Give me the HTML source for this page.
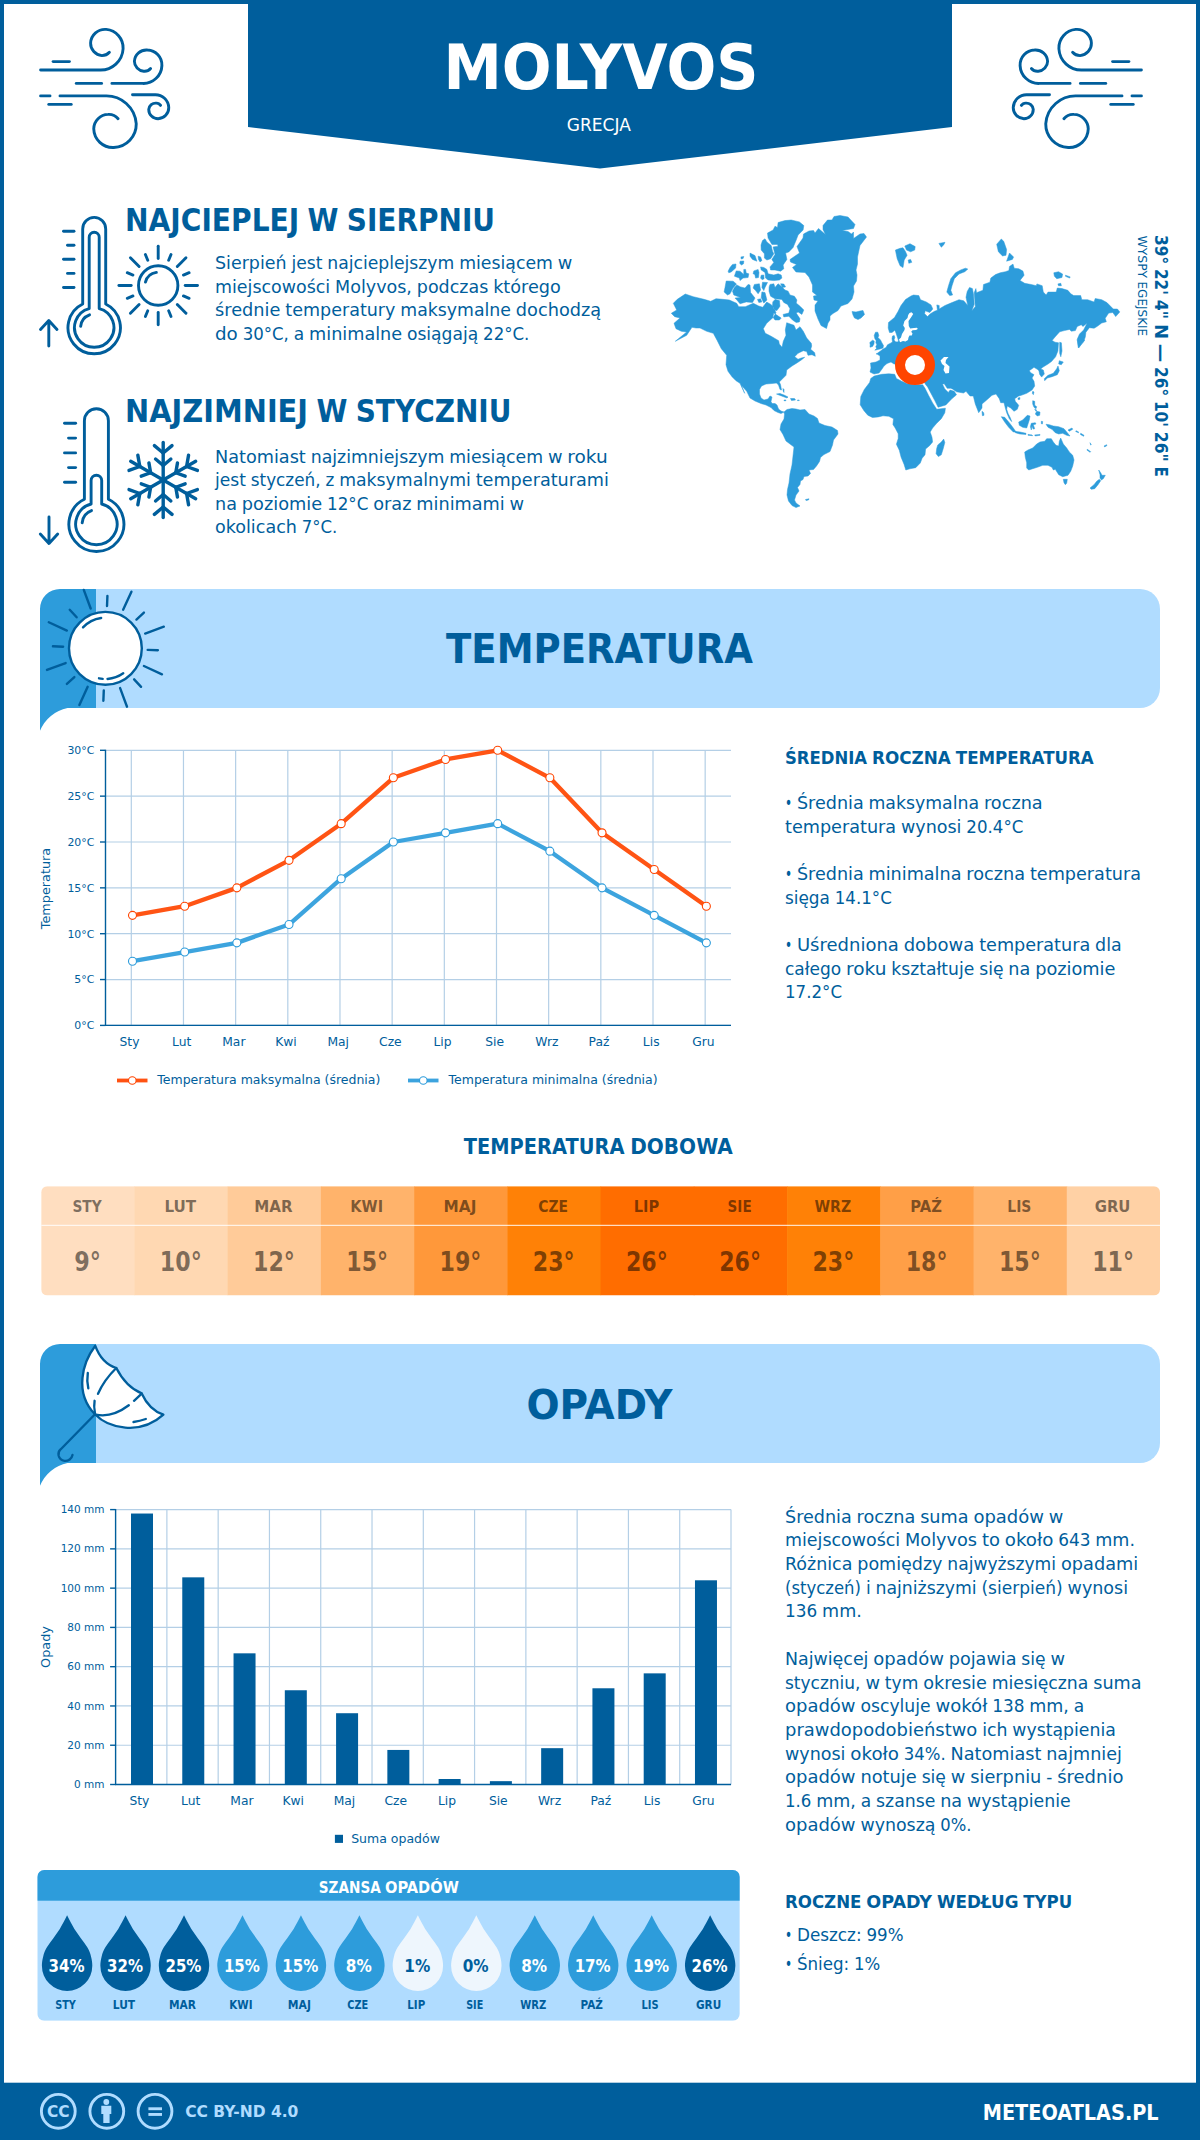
<!DOCTYPE html>
<html lang="pl"><head><meta charset="utf-8"><title>Molyvos – klimat i pogoda</title>
<style>html,body{margin:0;padding:0;background:#fff}svg{display:block}text{white-space:pre}</style></head>
<body>
<svg width="1200" height="2140" viewBox="0 0 1200 2140">
<rect x="0" y="0" width="1200" height="2140" fill="#fff"/>
<rect x="0" y="0" width="4" height="2140" fill="#005e9c"/>
<rect x="1196" y="0" width="4" height="2140" fill="#005e9c"/>
<rect x="0" y="0" width="1200" height="4" fill="#005e9c"/>
<polygon points="248,0 952,0 952,127 600,168.5 248,127" fill="#005e9c"/>
<g transform="translate(0,0)" fill="none" stroke="#005e9c" stroke-width="2.9" stroke-linecap="round" stroke-linejoin="round"><path d="M40.6,70 H100 A22.5,22.5 0 0 0 123.1,48.75 A18.5,18.5 0 0 0 106.25,29.4 A14.5,14.5 0 0 0 90.6,43.1 A12.3,12.3 0 0 0 101.9,55.6 A10,10 0 0 0 109.4,52.25"/><path d="M53.1,61.6 H69.4"/><path d="M111.9,83.4 H142.5 A18.5,18.5 0 0 0 161.9,65.6 A15,15 0 0 0 147.5,50 A12,12 0 0 0 134.4,61.25 A10,10 0 0 0 143.75,71.25 A8,8 0 0 0 150.6,68.5"/><path d="M76.25,83.4 H101.6"/><path d="M60,95.9 H105 A30,30 0 0 1 136.25,123.75 A23.4,23.4 0 0 1 113.75,147.5 A19.2,19.2 0 0 1 93.75,128.75 A14.7,14.7 0 0 1 108.1,114.4 A12,12 0 0 1 118.1,118.75"/><path d="M40.6,95.9 H50"/><path d="M48.75,104.4 H71.25"/><path d="M132.5,94.75 H155 A13.3,13.3 0 0 1 168.75,107.5 A11,11 0 0 1 158.1,118.75 A9.4,9.4 0 0 1 148.75,109.4 A7,7 0 0 1 156.25,103.1 A5,5 0 0 1 160.6,105.4"/></g>
<g transform="translate(1182,0) scale(-1,1)" fill="none" stroke="#005e9c" stroke-width="2.9" stroke-linecap="round" stroke-linejoin="round"><path d="M40.6,70 H100 A22.5,22.5 0 0 0 123.1,48.75 A18.5,18.5 0 0 0 106.25,29.4 A14.5,14.5 0 0 0 90.6,43.1 A12.3,12.3 0 0 0 101.9,55.6 A10,10 0 0 0 109.4,52.25"/><path d="M53.1,61.6 H69.4"/><path d="M111.9,83.4 H142.5 A18.5,18.5 0 0 0 161.9,65.6 A15,15 0 0 0 147.5,50 A12,12 0 0 0 134.4,61.25 A10,10 0 0 0 143.75,71.25 A8,8 0 0 0 150.6,68.5"/><path d="M76.25,83.4 H101.6"/><path d="M60,95.9 H105 A30,30 0 0 1 136.25,123.75 A23.4,23.4 0 0 1 113.75,147.5 A19.2,19.2 0 0 1 93.75,128.75 A14.7,14.7 0 0 1 108.1,114.4 A12,12 0 0 1 118.1,118.75"/><path d="M40.6,95.9 H50"/><path d="M48.75,104.4 H71.25"/><path d="M132.5,94.75 H155 A13.3,13.3 0 0 1 168.75,107.5 A11,11 0 0 1 158.1,118.75 A9.4,9.4 0 0 1 148.75,109.4 A7,7 0 0 1 156.25,103.1 A5,5 0 0 1 160.6,105.4"/></g>
<g fill="none" stroke="#005e9c" stroke-width="2.9" stroke-linecap="round" stroke-linejoin="round"><path d="M82.7,304.06 V228.9 A11.5,11.5 0 0 1 105.7,228.9 V304.06 A26.2,26.2 0 1 1 82.7,304.06 Z"/><path d="M89.2,308.55 V237.2 A5.0,5.0 0 0 1 99.2,237.2 V308.55 A19.7,19.7 0 1 1 89.2,308.55 Z"/><path d="M80.66,326.42 A13.59,13.59 0 0 1 89.55,314.83"/><path d="M63.5,231.2 H74"/><path d="M67.5,245.2 H74"/><path d="M63.5,259.3 H74"/><path d="M67.5,273.4 H74"/><path d="M63.5,287.5 H74"/><path d="M48.8,346 V321 M40.5,329.5 L48.8,320.6 L57,329.5"/></g>
<g fill="none" stroke="#005e9c" stroke-width="2.9" stroke-linecap="round" stroke-linejoin="round"><path d="M84.4,499.26 V420.7 A12,12 0 0 1 108.4,420.7 V499.26 A27.5,27.5 0 1 1 84.4,499.26 Z"/><path d="M91.10000000000001,503.99 V480.5 A5.3,5.3 0 0 1 101.7,480.5 V503.99 A20.7,20.7 0 1 1 91.10000000000001,503.99 Z"/><path d="M82.17,522.76 A14.28,14.28 0 0 1 91.51,510.58"/><path d="M64.5,423.3 H75.6"/><path d="M68.5,438.1 H75.6"/><path d="M64.5,452.9 H75.6"/><path d="M68.5,467.6 H75.6"/><path d="M64.5,482.3 H75.6"/><path d="M49,517 V543 M40.3,534 L49,543.5 L57.7,534"/></g>
<g fill="none" stroke="#005e9c" stroke-width="2.9" stroke-linecap="round"><circle cx="158.2" cy="285.5" r="19.7"/><path d="M185.20,285.50 L197.50,285.50"/><path d="M183.42,295.95 L189.15,298.32"/><path d="M177.29,304.59 L185.99,313.29"/><path d="M168.65,310.72 L171.02,316.45"/><path d="M158.20,312.50 L158.20,324.80"/><path d="M147.75,310.72 L145.38,316.45"/><path d="M139.11,304.59 L130.41,313.29"/><path d="M132.98,295.95 L127.25,298.32"/><path d="M131.20,285.50 L118.90,285.50"/><path d="M132.98,275.05 L127.25,272.68"/><path d="M139.11,266.41 L130.41,257.71"/><path d="M147.75,260.28 L145.38,254.55"/><path d="M158.20,258.50 L158.20,246.20"/><path d="M168.65,260.28 L171.02,254.55"/><path d="M177.29,266.41 L185.99,257.71"/><path d="M183.42,275.05 L189.15,272.68"/><path d="M145.45,282.08 A13.2,13.2 0 0 1 156.36,272.43"/></g>
<g fill="none" stroke="#005e9c" stroke-width="3.4" stroke-linecap="round"><path d="M163.2,480 L163.20,442.50"/><path d="M163.20,453.00 L154.39,445.61"/><path d="M163.20,453.00 L172.01,445.61"/><path d="M163.20,465.50 L155.54,459.07"/><path d="M163.20,465.50 L170.86,459.07"/><path d="M163.2,480 L195.68,461.25"/><path d="M186.58,466.50 L188.58,455.17"/><path d="M186.58,466.50 L197.39,470.43"/><path d="M175.76,472.75 L177.49,462.90"/><path d="M175.76,472.75 L185.15,476.17"/><path d="M163.2,480 L195.68,498.75"/><path d="M186.58,493.50 L197.39,489.57"/><path d="M186.58,493.50 L188.58,504.83"/><path d="M175.76,487.25 L185.15,483.83"/><path d="M175.76,487.25 L177.49,497.10"/><path d="M163.2,480 L163.20,517.50"/><path d="M163.20,507.00 L172.01,514.39"/><path d="M163.20,507.00 L154.39,514.39"/><path d="M163.20,494.50 L170.86,500.93"/><path d="M163.20,494.50 L155.54,500.93"/><path d="M163.2,480 L130.72,498.75"/><path d="M139.82,493.50 L137.82,504.83"/><path d="M139.82,493.50 L129.01,489.57"/><path d="M150.64,487.25 L148.91,497.10"/><path d="M150.64,487.25 L141.25,483.83"/><path d="M163.2,480 L130.72,461.25"/><path d="M139.82,466.50 L129.01,470.43"/><path d="M139.82,466.50 L137.82,455.17"/><path d="M150.64,472.75 L141.25,476.17"/><path d="M150.64,472.75 L148.91,462.90"/></g>
<g fill="#2d9cdb" stroke="#2d9cdb" stroke-width="0.5" stroke-linejoin="round"><path d="M685.3,294.0 L677.3,299.3 L673.3,303.3 L676.7,310.0 L671.3,313.3 L674.7,316.7 L680.0,318.0 L674.0,323.3 L676.0,328.7 L681.3,331.3 L686.7,332.0 L675.3,341.3 L686.7,335.3 L692.0,327.3 L696.0,328.0 L700.0,328.0 L706.7,331.3 L713.3,333.3 L717.3,340.7 L721.3,348.7 L726.7,355.3 L726.0,364.7 L728.0,371.3 L732.0,376.7 L736.0,380.7 L740.0,383.3 L744.7,393.3 L741.3,385.3 L746.7,391.3 L750.0,398.0 L755.0,401.0 L761.0,403.5 L766.0,405.0 L771.0,407.5 L774.0,410.5 L778.0,412.5 L781.0,413.5 L784.0,412.0 L781.0,411.0 L778.5,409.0 L777.0,405.0 L775.0,403.5 L772.0,403.5 L771.0,401.5 L772.0,397.0 L770.0,396.0 L768.0,399.0 L764.0,400.0 L761.0,398.0 L759.5,394.0 L759.5,389.5 L761.5,386.0 L766.0,384.0 L772.0,383.5 L776.5,383.0 L778.5,385.0 L780.0,389.5 L781.5,390.0 L780.5,384.5 L779.3,382.0 L786.0,375.3 L786.7,370.0 L792.0,366.0 L797.3,362.7 L801.3,360.0 L804.7,357.3 L801.3,358.0 L798.0,359.3 L794.7,356.7 L798.0,353.3 L803.3,350.7 L806.7,351.6 L808.0,355.3 L812.0,354.7 L815.3,356.3 L814.7,352.7 L810.7,349.3 L811.7,346.0 L811.3,343.3 L806.7,338.0 L803.3,331.3 L800.0,326.7 L796.0,330.0 L794.0,325.3 L786.7,322.7 L785.3,330.0 L786.0,335.3 L783.3,341.3 L782.0,347.3 L779.3,344.0 L778.7,340.7 L770.7,336.0 L765.3,333.3 L763.3,328.7 L766.7,323.3 L773.3,317.3 L776.0,312.7 L773.3,307.3 L771.3,304.7 L766.7,302.0 L762.7,307.3 L758.7,306.0 L753.3,303.3 L745.3,306.7 L738.7,306.7 L736.7,303.3 L729.3,300.0 L722.7,299.3 L716.0,298.7 L710.7,301.3 L704.0,299.3 L693.3,296.7Z M778.1,222.5 L785.0,220.6 L791.2,220.0 L799.4,221.9 L803.8,225.6 L803.1,230.0 L798.1,235.0 L796.2,240.0 L793.1,247.5 L788.8,251.9 L785.6,253.1 L786.9,259.4 L783.1,265.0 L783.8,268.8 L780.6,271.2 L775.0,270.0 L770.6,270.0 L770.0,266.9 L773.8,262.5 L771.9,259.4 L775.0,254.4 L773.1,246.9 L778.1,246.2 L777.5,244.4 L771.9,244.4 L768.1,238.1 L767.5,233.1 L773.1,230.0 L775.0,226.2 L777.5,227.5Z M765.0,238.8 L766.9,241.9 L771.2,245.6 L772.5,251.2 L773.8,253.8 L770.6,258.8 L766.9,260.0 L764.4,258.1 L764.4,253.8 L761.2,250.0 L761.0,245.0 L762.5,240.6Z M760.6,266.9 L763.8,267.5 L766.9,269.4 L768.1,273.8 L773.8,275.0 L778.1,273.8 L781.2,275.0 L781.9,278.1 L779.4,280.0 L773.8,280.6 L768.1,280.0 L765.6,278.1 L765.0,272.5 L761.2,270.0Z M750.0,253.1 L755.0,255.6 L756.9,261.2 L752.5,259.4 L750.0,256.2Z M758.1,256.2 L760.6,256.9 L761.9,260.6 L760.0,261.9 L758.5,259.4Z M740.9,256.9 L743.8,256.5 L743.1,258.5 L741.2,259.0Z M740.0,261.2 L743.8,261.0 L743.5,263.8 L741.5,265.0 L739.8,263.5Z M732.5,264.4 L736.0,264.0 L735.6,268.1 L731.2,271.9 L728.8,272.8 L728.1,271.2 L730.0,267.5Z M736.2,270.9 L740.0,271.2 L743.8,274.4 L743.8,269.4 L745.6,269.4 L746.2,273.1 L748.8,273.8 L748.1,277.5 L743.1,278.1 L740.0,280.6 L739.4,278.1 L734.4,276.2Z M753.8,270.9 L758.1,269.4 L759.0,272.5 L758.5,277.5 L755.6,278.1 L754.8,274.4 L753.1,273.8Z M761.2,275.2 L763.8,275.0 L764.1,278.8 L762.2,279.8 L760.6,278.1Z M726.2,281.0 L733.1,281.2 L736.5,284.0 L733.1,288.1 L730.0,293.8 L727.5,295.0 L724.1,291.9 L725.0,287.5Z M736.9,285.0 L740.6,286.9 L745.0,288.1 L748.1,284.4 L750.0,285.0 L750.6,292.5 L755.0,298.1 L752.5,302.5 L746.2,301.9 L740.0,303.8 L736.9,300.0 L735.0,298.1 L740.6,297.5 L733.8,295.0 L732.5,291.2 L734.4,287.5Z M754.4,284.4 L759.4,283.8 L760.6,290.0 L758.1,293.8 L755.6,290.6 L753.1,288.1Z M762.5,282.2 L767.5,282.5 L765.0,287.5 L763.8,290.6 L761.9,287.5Z M761.9,291.9 L765.0,292.5 L766.9,300.0 L763.8,303.1 L761.2,297.5Z M757.5,299.4 L760.6,298.8 L761.9,301.9 L758.8,302.5Z M770.0,284.4 L773.8,283.8 L775.0,287.5 L778.1,283.8 L781.2,286.2 L785.0,290.0 L788.1,291.2 L790.0,295.0 L794.4,296.2 L796.9,300.0 L796.2,303.1 L800.0,306.2 L803.8,310.0 L801.9,314.4 L798.1,311.9 L796.2,313.1 L800.0,318.8 L799.4,321.9 L796.2,322.5 L792.5,320.0 L788.8,316.2 L783.8,316.9 L783.1,314.4 L788.8,313.1 L790.0,308.8 L787.5,304.4 L783.8,302.5 L781.9,299.4 L775.0,298.8 L770.6,296.2 L769.0,291.2 L769.1,286.9Z M780.6,283.8 L783.8,284.0 L785.6,286.9 L782.5,287.5Z M773.8,313.1 L781.2,318.1 L779.4,320.0 L775.0,320.0 L772.8,316.9Z M775.0,299.4 L779.4,300.6 L780.0,306.2 L776.9,310.6 L774.4,310.0 L772.5,306.2 L772.8,301.9Z M834.0,216.5 L840.0,215.5 L848.0,217.0 L855.0,224.5 L853.5,228.5 L842.0,230.5 L848.0,231.5 L851.5,234.0 L853.5,232.0 L853.5,238.5 L860.0,234.0 L864.0,233.5 L866.5,237.0 L860.0,245.5 L859.0,250.0 L857.5,257.0 L857.5,264.0 L856.0,270.0 L857.0,275.0 L856.5,281.0 L853.5,286.0 L854.0,292.0 L852.0,299.0 L848.0,303.5 L841.0,306.0 L838.0,310.5 L833.0,313.5 L830.0,316.0 L830.0,320.0 L828.0,323.0 L826.5,328.5 L821.0,325.5 L818.0,319.0 L815.0,311.0 L815.0,305.0 L818.0,301.0 L814.0,300.0 L813.5,296.0 L817.0,295.5 L812.5,292.0 L812.5,285.0 L809.0,277.0 L805.0,272.5 L796.0,272.0 L792.5,267.5 L796.5,264.5 L790.5,262.0 L790.0,259.5 L799.5,253.0 L797.0,246.5 L803.0,238.0 L803.5,234.0 L809.0,231.0 L813.5,230.5 L815.0,233.0 L818.5,228.5 L825.5,234.5 L823.0,229.5 L823.0,225.5 L827.5,220.0 L832.0,220.0Z M852.0,311.5 L856.0,312.0 L860.0,311.0 L863.0,310.5 L864.5,314.5 L861.0,318.0 L858.0,319.5 L854.5,318.0 L853.0,315.0Z M784.0,412.0 L787.0,409.5 L792.0,408.5 L796.0,409.0 L800.0,410.0 L805.0,409.5 L809.0,414.0 L814.0,416.0 L817.5,418.5 L819.0,423.0 L825.0,425.5 L832.0,427.0 L837.5,430.5 L838.0,434.0 L833.5,440.0 L832.5,445.0 L830.0,451.5 L824.0,454.5 L820.5,457.5 L819.5,461.5 L816.5,466.0 L813.5,469.5 L809.0,470.0 L810.5,473.5 L808.0,476.0 L804.0,476.5 L803.0,479.5 L800.5,481.0 L800.0,484.5 L797.5,487.5 L799.0,491.0 L796.0,495.0 L794.5,500.0 L796.0,503.0 L800.0,506.0 L796.0,507.5 L792.0,505.5 L788.5,501.0 L787.0,495.0 L787.5,489.5 L789.0,483.0 L790.0,474.0 L792.0,465.0 L793.0,456.0 L794.0,447.0 L790.0,444.0 L786.0,441.0 L783.0,434.5 L780.0,429.5 L781.0,424.0 L784.0,419.0 L784.5,414.5Z M805.5,499.5 L809.0,498.8 L808.5,500.0 L806.0,500.5Z M776.5,394.0 L780.0,393.5 L784.0,395.0 L788.0,397.0 L787.0,398.0 L783.0,396.5 L779.0,395.0Z M790.5,398.5 L794.5,398.5 L795.5,400.0 L791.5,400.5Z M797.5,400.0 L799.2,400.0 L799.2,400.6 L797.5,400.6Z M784.0,400.0 L786.0,400.0 L785.8,400.8 L784.0,400.7Z M783.0,388.5 L784.0,389.5 L784.0,392.5 L783.2,391.0Z M913.5,295.0 L918.8,295.6 L920.5,299.7 L926.3,302.0 L931.0,304.9 L932.8,309.0 L929.8,312.5 L925.2,310.8 L924.6,313.7 L927.5,316.6 L930.4,313.7 L934.5,311.3 L937.4,310.2 L936.8,304.9 L939.2,305.5 L939.2,309.0 L945.0,305.5 L952.0,302.6 L959.0,299.7 L963.7,300.8 L967.8,305.5 L966.0,297.3 L967.2,291.5 L969.5,287.4 L972.4,288.6 L973.6,295.0 L974.2,304.3 L971.8,310.8 L975.3,306.7 L974.8,299.7 L974.2,292.7 L975.9,288.6 L976.5,292.7 L982.9,290.3 L983.5,284.5 L989.9,282.2 L990.8,278.1 L995.5,274.6 L1000.2,272.8 L1005.4,271.7 L1008.9,270.5 L1009.5,266.4 L1013.0,264.1 L1014.2,268.2 L1018.8,268.8 L1022.9,271.1 L1024.1,275.2 L1020.0,280.4 L1024.7,283.3 L1031.1,284.5 L1036.3,285.7 L1036.9,283.9 L1042.2,285.7 L1043.3,292.1 L1046.2,295.0 L1048.0,292.1 L1056.2,292.1 L1057.3,288.0 L1062.0,288.6 L1067.8,290.3 L1070.8,293.8 L1073.7,295.6 L1080.7,295.6 L1081.8,299.7 L1087.7,299.7 L1094.1,302.0 L1095.2,298.5 L1101.7,299.7 L1106.9,302.6 L1113.3,309.0 L1117.4,309.0 L1119.8,311.9 L1115.7,316.6 L1112.8,312.5 L1108.7,313.1 L1105.2,318.3 L1106.3,321.8 L1101.7,323.0 L1097.0,326.5 L1094.1,328.2 L1089.4,327.7 L1085.9,332.3 L1085.3,337.0 L1083.6,341.7 L1078.3,347.5 L1077.2,339.3 L1079.5,334.1 L1083.6,330.0 L1087.1,323.0 L1083.0,326.5 L1081.2,324.8 L1077.2,326.5 L1075.4,330.6 L1071.3,331.2 L1069.6,329.4 L1064.3,330.6 L1059.7,331.8 L1055.0,337.0 L1052.1,340.5 L1055.0,342.2 L1058.5,342.8 L1057.9,351.0 L1055.6,356.8 L1051.5,361.5 L1048.0,364.0 L1042.7,367.3 L1040.7,369.1 L1043.3,370.0 L1044.3,374.0 L1041.6,377.1 L1039.7,374.4 L1038.9,370.7 L1037.3,369.3 L1034.0,367.3 L1029.3,370.7 L1030.7,372.7 L1034.0,374.7 L1032.0,378.0 L1034.0,381.3 L1034.7,386.0 L1032.0,390.0 L1026.7,393.3 L1021.3,395.3 L1018.7,396.0 L1014.7,398.7 L1015.3,401.3 L1018.7,405.3 L1017.3,409.3 L1014.0,411.3 L1010.7,408.0 L1007.3,406.0 L1006.7,409.3 L1008.0,413.3 L1010.4,418.0 L1011.7,421.6 L1009.3,418.7 L1006.7,412.7 L1005.3,408.0 L1004.0,402.7 L1000.7,402.7 L999.3,398.7 L996.0,394.0 L992.0,395.3 L986.7,400.0 L982.0,404.0 L982.0,408.0 L978.7,412.7 L975.3,404.0 L973.3,396.0 L970.0,396.0 L966.0,391.3 L963.5,393.0 L956.5,391.8 L952.4,388.9 L950.7,388.3 L947.2,388.3 L944.2,383.7 L942.5,384.2 L944.8,388.9 L948.3,392.4 L950.1,390.1 L954.2,391.2 L956.5,394.8 L951.8,398.8 L945.8,405.0 L938.1,407.2 L934.8,400.6 L930.8,393.0 L927.6,386.9 L925.6,384.6 L915.0,365.0 L915.0,365.0 L894.0,364.0 L891.0,362.0 L887.0,363.5 L884.0,366.0 L882.0,369.0 L879.0,373.0 L874.0,374.0 L870.0,372.0 L871.0,368.0 L870.5,363.0 L876.0,362.0 L880.0,360.0 L880.0,356.0 L877.0,354.0 L876.0,354.0 L877.0,353.5 L880.5,351.0 L883.0,349.0 L886.0,347.5 L887.5,344.8 L890.5,343.2 L892.5,342.0 L892.0,338.5 L892.5,336.0 L894.2,335.5 L894.8,337.5 L894.0,340.0 L895.5,341.8 L897.5,342.0 L898.5,341.0 L898.0,339.0 L896.0,333.0 L894.8,330.2 L892.0,332.5 L889.5,332.5 L888.2,328.0 L888.5,322.5 L894.5,317.5 L898.0,311.5 L901.0,305.5 L905.5,299.5 L911.0,296.0Z M875.5,332.2 L877.8,332.2 L878.8,335.5 L878.0,337.5 L880.5,340.0 L882.0,343.0 L883.5,345.5 L883.0,348.0 L880.0,349.0 L874.8,350.2 L876.5,348.5 L875.8,346.5 L876.8,344.8 L875.8,342.5 L876.2,340.8 L874.8,338.5 L874.2,335.5Z M869.8,342.5 L872.5,340.2 L874.2,341.0 L874.0,344.0 L872.5,346.5 L870.0,347.2 L870.2,344.8Z M895.4,250.1 L900.1,248.3 L903.0,247.8 L905.3,251.2 L907.1,255.3 L904.2,260.0 L903.0,267.6 L900.1,265.8 L897.2,258.8Z M904.8,246.0 L910.0,243.7 L915.2,246.6 L914.7,250.1 L910.6,251.8 L906.5,250.1Z M908.2,260.0 L910.6,259.4 L911.8,262.3 L908.8,263.3Z M938.9,243.4 L945.0,242.3 L943.8,244.8 L941.3,247.2Z M965.4,268.2 L967.8,269.1 L964.8,271.7 L959.0,274.0 L954.3,278.7 L952.0,285.7 L950.8,290.3 L952.6,295.0 L949.7,295.6 L946.8,292.1 L948.5,285.7 L950.8,278.7 L955.5,272.8 L960.8,269.9Z M996.7,244.2 L1001.3,239.0 L1003.7,241.3 L1006.6,249.5 L1006.0,255.3 L1002.5,255.9 L998.4,251.8Z M1009.5,253.0 L1013.6,257.1 L1012.4,259.4 L1006.6,261.2Z M1053.8,272.8 L1058.5,271.7 L1062.6,274.0 L1062.0,277.5 L1056.8,278.7 L1054.4,276.3Z M1065.5,275.2 L1070.2,276.9 L1069.6,278.1 L1065.5,276.3Z M1057.9,283.9 L1060.8,283.3 L1061.4,285.7 L1058.5,285.7Z M1059.7,342.2 L1061.4,342.8 L1062.0,351.0 L1060.8,356.8 L1059.7,353.3Z M874.2,376.1 L881.8,374.3 L888.8,373.8 L894.7,374.3 L896.4,378.4 L901.7,381.3 L907.5,383.7 L915.7,384.8 L922.7,384.8 L925.0,388.3 L928.5,395.3 L932.6,402.9 L936.7,409.3 L945.4,408.2 L944.8,412.8 L941.3,418.7 L936.7,423.3 L932.6,428.0 L930.2,432.1 L932.0,437.3 L932.6,442.0 L929.7,445.5 L925.6,449.0 L925.0,454.8 L922.1,458.3 L920.3,463.0 L915.7,467.7 L909.8,468.8 L905.8,470.0 L904.0,464.2 L901.1,457.2 L899.3,450.2 L896.4,444.3 L898.2,438.5 L898.2,433.8 L895.2,428.0 L892.9,424.5 L893.5,418.7 L888.8,416.3 L883.0,415.8 L878.3,416.9 L872.5,417.5 L867.8,415.2 L863.8,410.5 L860.2,404.7 L860.8,396.5 L864.3,389.5 L869.6,382.5 L870.8,378.4Z M943.7,439.1 L944.8,442.6 L943.1,449.0 L941.3,454.8 L938.4,456.6 L936.1,453.7 L936.7,448.4 L937.8,444.9 L941.3,442.0Z M1059.3,360.7 L1063.3,362.0 L1061.3,364.7 L1058.7,364.0Z M1058.0,366.0 L1059.3,370.7 L1057.3,374.7 L1052.0,376.7 L1047.3,378.0 L1044.7,380.7 L1044.3,378.7 L1048.0,375.3 L1053.3,373.3 L1056.7,368.7Z M1077.3,340.0 L1084.7,340.0 L1080.7,345.3 L1078.7,348.0Z M1032.7,391.3 L1034.0,392.0 L1033.3,394.7 L1032.3,393.3Z M1018.0,398.0 L1020.0,397.6 L1019.7,399.5 L1018.1,399.6Z M982.0,411.3 L983.7,412.7 L984.0,415.3 L982.4,415.7Z M1032.7,400.7 L1034.7,401.3 L1034.7,405.3 L1036.7,406.7 L1036.0,408.7 L1034.0,407.3 L1032.7,404.0Z M1036.7,411.3 L1040.0,412.0 L1039.7,415.3 L1037.3,416.0 L1035.3,414.0Z M1034.7,409.3 L1036.7,410.0 L1036.0,411.3Z M1001.3,416.7 L1004.7,417.3 L1009.3,422.7 L1013.3,428.0 L1016.0,432.0 L1013.3,432.0 L1008.7,427.3 L1004.7,422.0Z M1015.3,431.3 L1020.0,432.0 L1026.0,433.3 L1026.0,434.4 L1020.0,434.0 L1015.3,432.7Z M1028.0,434.4 L1032.0,434.9 L1032.7,435.7 L1028.0,435.3Z M1034.7,434.9 L1040.0,434.4 L1040.0,435.3 L1035.3,436.0Z M1018.7,422.0 L1022.7,420.0 L1027.3,415.3 L1030.0,416.0 L1029.3,420.0 L1028.0,424.0 L1026.7,428.0 L1022.7,427.3 L1019.3,425.3Z M1031.3,423.3 L1035.3,422.7 L1036.0,424.0 L1033.3,424.7 L1034.7,428.7 L1033.1,429.1 L1032.0,426.0 L1031.3,430.0 L1030.4,426.7Z M1041.3,421.3 L1042.7,421.6 L1042.4,424.0 L1041.3,423.7Z M1046.0,424.3 L1049.3,424.7 L1053.3,426.0 L1058.7,426.7 L1064.0,428.7 L1066.7,432.0 L1070.0,436.0 L1066.7,435.3 L1062.7,433.3 L1058.7,434.0 L1055.3,432.7 L1052.0,429.3 L1048.0,427.3Z M1068.0,430.0 L1072.0,428.0 L1072.7,429.3 L1069.3,431.3Z M1076.0,430.7 L1078.7,432.0 L1078.4,432.8 L1075.7,431.5Z M1080.7,433.3 L1084.0,435.3 L1083.6,436.3 L1080.4,434.4Z M1090.0,442.7 L1091.3,444.7 L1090.7,445.1Z M1087.3,449.3 L1090.7,451.7 L1090.1,452.3 L1086.9,450.1Z M1104.0,446.0 L1106.7,444.7 L1106.9,445.6 L1104.7,446.9Z M1024.7,452.0 L1028.0,450.0 L1032.7,448.0 L1036.7,444.0 L1040.0,442.0 L1044.7,441.3 L1046.7,438.7 L1051.3,438.7 L1053.3,442.0 L1056.0,445.3 L1058.7,446.0 L1059.3,441.3 L1060.7,438.0 L1063.3,444.0 L1066.7,448.0 L1069.3,452.0 L1072.7,455.3 L1074.0,460.0 L1072.7,466.0 L1070.7,471.3 L1068.0,475.3 L1062.7,476.7 L1058.7,474.7 L1055.3,469.3 L1053.3,470.0 L1052.0,467.3 L1048.0,465.3 L1042.7,465.3 L1037.3,467.3 L1032.7,468.7 L1028.7,470.0 L1026.7,468.0 L1026.7,462.7 L1025.3,457.3Z M1063.3,479.3 L1067.3,479.3 L1066.7,483.3 L1065.3,484.7 L1064.0,482.7Z M1098.7,470.0 L1100.7,472.7 L1102.0,475.3 L1105.3,475.3 L1103.3,478.7 L1101.3,480.0 L1100.0,478.0 L1100.0,474.7Z M1099.3,479.3 L1100.7,480.7 L1098.0,484.7 L1094.7,488.7 L1091.3,489.3 L1090.0,488.0 L1094.0,484.7 L1096.7,481.3Z"/></g><path d="M911.5,312.2 L913.2,314.0 L911.0,317.5 L908.5,321.0 L908.8,326.0 L910.2,328.5 L914.0,328.0 L917.0,327.8 L917.8,329.0 L916.0,330.0 L912.5,330.2 L911.2,331.8 L912.5,333.5 L911.8,335.5 L909.5,335.5 L908.5,337.5 L908.0,340.0 L905.5,341.5 L903.0,341.0 L900.0,342.2 L899.0,339.5 L901.0,337.5 L902.0,334.0 L904.5,330.0 L904.8,328.0 L903.2,325.5 L904.5,321.0 L907.5,318.0 L908.2,315.0 L909.5,313.0Z M940.5,360.5 L944.0,357.0 L948.5,357.0 L946.0,360.0 L945.5,363.0 L949.5,366.5 L949.0,373.0 L945.5,373.5 L943.5,370.0 L944.5,366.0 L942.0,364.0Z" fill="#fff"/><circle cx="915" cy="365" r="15" fill="#fff" stroke="#ff4500" stroke-width="10"/>
<path d="M60,589 H1140 A20,20 0 0 1 1160,609 V688 A20,20 0 0 1 1140,708 H60 Z" fill="#b0dcff"/><path d="M96,589 H60 A20,20 0 0 0 40,609 V730.8 A37.8,37.8 0 0 1 67.5,708 H96 Z" fill="#2d9cdb"/>
<path d="M60,1344 H1140 A20,20 0 0 1 1160,1364 V1443 A20,20 0 0 1 1140,1463 H60 Z" fill="#b0dcff"/><path d="M96,1344 H60 A20,20 0 0 0 40,1364 V1485.8 A37.8,37.8 0 0 1 67.5,1463 H96 Z" fill="#2d9cdb"/>
<g fill="none" stroke="#005e9c" stroke-width="2.4" stroke-linecap="round"><path d="M147.67,649.92 L157.86,650.32"/><path d="M143.92,666.02 L162.00,674.33"/><path d="M134.14,679.34 L141.07,686.82"/><path d="M120.11,688.07 L127.01,706.73"/><path d="M103.78,690.57 L103.38,700.76"/><path d="M87.68,686.82 L79.37,704.90"/><path d="M74.36,677.04 L66.88,683.97"/><path d="M65.63,663.01 L46.97,669.91"/><path d="M63.13,646.68 L52.94,646.28"/><path d="M66.88,630.58 L48.80,622.27"/><path d="M76.66,617.26 L69.73,609.78"/><path d="M90.69,608.53 L83.79,589.87"/><path d="M107.02,606.03 L107.42,595.84"/><path d="M123.12,609.78 L131.43,591.70"/><path d="M136.44,619.56 L143.92,612.63"/><path d="M145.17,633.59 L163.83,626.69"/><circle cx="105.4" cy="648.3" r="36.4" fill="#fff"/><path d="M83.02,627.43 A30.6,30.6 0 0 1 101.14,618.00"/><path d="M123.23,673.29 A30.7,30.7 0 0 1 107.54,678.93"/><path d="M102.72,678.88 A30.7,30.7 0 0 1 99.02,678.33"/></g>
<g fill="none" stroke="#005e9c" stroke-width="2.35" stroke-linecap="round" stroke-linejoin="round"><path d="M95,1414.3 L60.8,1449.2 A6.6,6.6 0 0 0 58.6,1455.5 A7.2,7.2 0 0 0 64.5,1460.9 A7.4,7.4 0 0 0 72.5,1455"/><path d="M95.3,1345.8 C83,1362 73.5,1392 95,1414.3 C108,1428 140,1436 163.4,1414.7 Q149,1409.5 141.7,1393.4 Q126,1387 116.3,1368 Q101.5,1363 95.3,1345.8 Z" fill="#fff"/><path d="M95,1413.5 Q93.6,1406 94.6,1400.8"/><path d="M98,1393.8 Q104,1380 116.3,1368"/><path d="M95.8,1414.6 Q112,1418 128.8,1405.3"/><path d="M134,1400.8 L141.7,1393.6"/><path d="M87.8,1373 Q86.6,1381 88.3,1388.3"/><path d="M133.5,1422 Q140,1421 145.8,1419"/></g>
<g stroke="#b4cfe6" stroke-width="1.2" fill="none"><path d="M105.5,1025.40 H731.0"/><path d="M105.5,979.55 H731.0"/><path d="M105.5,933.70 H731.0"/><path d="M105.5,887.85 H731.0"/><path d="M105.5,842.00 H731.0"/><path d="M105.5,796.15 H731.0"/><path d="M105.5,750.30 H731.0"/><path d="M131.30,750.3 V1025.4"/><path d="M183.47,750.3 V1025.4"/><path d="M235.64,750.3 V1025.4"/><path d="M287.81,750.3 V1025.4"/><path d="M339.98,750.3 V1025.4"/><path d="M392.15,750.3 V1025.4"/><path d="M444.32,750.3 V1025.4"/><path d="M496.49,750.3 V1025.4"/><path d="M548.66,750.3 V1025.4"/><path d="M600.83,750.3 V1025.4"/><path d="M653.00,750.3 V1025.4"/><path d="M705.17,750.3 V1025.4"/></g><g stroke="#005e9c" stroke-width="1.4" fill="none"><path d="M105.5,749.6999999999999 V1025.4 H731.0"/><path d="M100.0,1025.40 H105.5"/><path d="M100.0,979.55 H105.5"/><path d="M100.0,933.70 H105.5"/><path d="M100.0,887.85 H105.5"/><path d="M100.0,842.00 H105.5"/><path d="M100.0,796.15 H105.5"/><path d="M100.0,750.30 H105.5"/></g>
<polyline points="132.50,915.36 184.67,906.19 236.84,887.85 289.01,860.34 341.18,823.66 393.35,777.81 445.52,759.47 497.69,750.30 549.86,777.81 602.03,832.83 654.20,869.51 706.37,906.19" fill="none" stroke="#ff4500" stroke-width="4.3" stroke-linejoin="round" stroke-opacity="0.92"/><circle cx="132.50" cy="915.36" r="4.0" fill="#fff" stroke="#ff4500" stroke-width="1.1"/><circle cx="184.67" cy="906.19" r="4.0" fill="#fff" stroke="#ff4500" stroke-width="1.1"/><circle cx="236.84" cy="887.85" r="4.0" fill="#fff" stroke="#ff4500" stroke-width="1.1"/><circle cx="289.01" cy="860.34" r="4.0" fill="#fff" stroke="#ff4500" stroke-width="1.1"/><circle cx="341.18" cy="823.66" r="4.0" fill="#fff" stroke="#ff4500" stroke-width="1.1"/><circle cx="393.35" cy="777.81" r="4.0" fill="#fff" stroke="#ff4500" stroke-width="1.1"/><circle cx="445.52" cy="759.47" r="4.0" fill="#fff" stroke="#ff4500" stroke-width="1.1"/><circle cx="497.69" cy="750.30" r="4.0" fill="#fff" stroke="#ff4500" stroke-width="1.1"/><circle cx="549.86" cy="777.81" r="4.0" fill="#fff" stroke="#ff4500" stroke-width="1.1"/><circle cx="602.03" cy="832.83" r="4.0" fill="#fff" stroke="#ff4500" stroke-width="1.1"/><circle cx="654.20" cy="869.51" r="4.0" fill="#fff" stroke="#ff4500" stroke-width="1.1"/><circle cx="706.37" cy="906.19" r="4.0" fill="#fff" stroke="#ff4500" stroke-width="1.1"/>
<polyline points="132.50,961.21 184.67,952.04 236.84,942.87 289.01,924.53 341.18,878.68 393.35,842.00 445.52,832.83 497.69,823.66 549.86,851.17 602.03,887.85 654.20,915.36 706.37,942.87" fill="none" stroke="#2d9cdb" stroke-width="4.3" stroke-linejoin="round" stroke-opacity="0.92"/><circle cx="132.50" cy="961.21" r="4.0" fill="#fff" stroke="#2d9cdb" stroke-width="1.1"/><circle cx="184.67" cy="952.04" r="4.0" fill="#fff" stroke="#2d9cdb" stroke-width="1.1"/><circle cx="236.84" cy="942.87" r="4.0" fill="#fff" stroke="#2d9cdb" stroke-width="1.1"/><circle cx="289.01" cy="924.53" r="4.0" fill="#fff" stroke="#2d9cdb" stroke-width="1.1"/><circle cx="341.18" cy="878.68" r="4.0" fill="#fff" stroke="#2d9cdb" stroke-width="1.1"/><circle cx="393.35" cy="842.00" r="4.0" fill="#fff" stroke="#2d9cdb" stroke-width="1.1"/><circle cx="445.52" cy="832.83" r="4.0" fill="#fff" stroke="#2d9cdb" stroke-width="1.1"/><circle cx="497.69" cy="823.66" r="4.0" fill="#fff" stroke="#2d9cdb" stroke-width="1.1"/><circle cx="549.86" cy="851.17" r="4.0" fill="#fff" stroke="#2d9cdb" stroke-width="1.1"/><circle cx="602.03" cy="887.85" r="4.0" fill="#fff" stroke="#2d9cdb" stroke-width="1.1"/><circle cx="654.20" cy="915.36" r="4.0" fill="#fff" stroke="#2d9cdb" stroke-width="1.1"/><circle cx="706.37" cy="942.87" r="4.0" fill="#fff" stroke="#2d9cdb" stroke-width="1.1"/>
<path d="M117,1080.5 H147.5" stroke="#ff4500" stroke-width="3.8" stroke-opacity="0.93"/><circle cx="132.3" cy="1080.5" r="3.8" fill="#fff" stroke="#ff4500" stroke-width="1.1"/>
<path d="M408,1080.5 H438.5" stroke="#2d9cdb" stroke-width="3.8" stroke-opacity="0.93"/><circle cx="423.3" cy="1080.5" r="3.8" fill="#fff" stroke="#2d9cdb" stroke-width="1.1"/>
<clipPath id="tclip"><rect x="41.2" y="1186.2" width="1118.8" height="109.29999999999995" rx="6" ry="6"/></clipPath><g clip-path="url(#tclip)"><rect x="41.20" y="1186.2" width="93.73" height="109.29999999999995" fill="#ffdec0"/><rect x="134.43" y="1186.2" width="93.73" height="109.29999999999995" fill="#ffd8b2"/><rect x="227.67" y="1186.2" width="93.73" height="109.29999999999995" fill="#ffcb99"/><rect x="320.90" y="1186.2" width="93.73" height="109.29999999999995" fill="#ffb36b"/><rect x="414.13" y="1186.2" width="93.73" height="109.29999999999995" fill="#ff983a"/><rect x="507.37" y="1186.2" width="93.73" height="109.29999999999995" fill="#ff8106"/><rect x="600.60" y="1186.2" width="93.73" height="109.29999999999995" fill="#ff6d00"/><rect x="693.83" y="1186.2" width="93.73" height="109.29999999999995" fill="#ff6d00"/><rect x="787.07" y="1186.2" width="93.73" height="109.29999999999995" fill="#ff8106"/><rect x="880.30" y="1186.2" width="93.73" height="109.29999999999995" fill="#ff9f47"/><rect x="973.53" y="1186.2" width="93.73" height="109.29999999999995" fill="#ffb36b"/><rect x="1066.77" y="1186.2" width="93.73" height="109.29999999999995" fill="#ffd1a5"/><rect x="41.2" y="1224.8" width="1118.8" height="1.1" fill="#fff" opacity="0.85"/></g>
<g stroke="#b4cfe6" stroke-width="1.2" fill="none"><path d="M115.6,1784.50 H731.0"/><path d="M115.6,1745.23 H731.0"/><path d="M115.6,1705.96 H731.0"/><path d="M115.6,1666.69 H731.0"/><path d="M115.6,1627.41 H731.0"/><path d="M115.6,1588.14 H731.0"/><path d="M115.6,1548.87 H731.0"/><path d="M115.6,1509.60 H731.0"/><path d="M166.88,1509.6 V1784.5"/><path d="M218.17,1509.6 V1784.5"/><path d="M269.45,1509.6 V1784.5"/><path d="M320.73,1509.6 V1784.5"/><path d="M372.02,1509.6 V1784.5"/><path d="M423.30,1509.6 V1784.5"/><path d="M474.58,1509.6 V1784.5"/><path d="M525.87,1509.6 V1784.5"/><path d="M577.15,1509.6 V1784.5"/><path d="M628.43,1509.6 V1784.5"/><path d="M679.72,1509.6 V1784.5"/><path d="M731.00,1509.6 V1784.5"/></g><g fill="#005e9c"><rect x="131.00" y="1513.53" width="22" height="270.97"/><rect x="182.27" y="1577.34" width="22" height="207.16"/><rect x="233.54" y="1653.33" width="22" height="131.17"/><rect x="284.81" y="1690.25" width="22" height="94.25"/><rect x="336.08" y="1713.22" width="22" height="71.28"/><rect x="387.35" y="1749.94" width="22" height="34.56"/><rect x="438.62" y="1779.00" width="22" height="5.50"/><rect x="489.89" y="1781.16" width="22" height="3.34"/><rect x="541.16" y="1748.17" width="22" height="36.33"/><rect x="592.43" y="1688.28" width="22" height="96.22"/><rect x="643.70" y="1673.36" width="22" height="111.14"/><rect x="694.97" y="1580.29" width="22" height="204.21"/></g><g stroke="#005e9c" stroke-width="1.4" fill="none"><path d="M115.6,1509.0 V1784.5 H731.0"/><path d="M110.1,1784.50 H115.6"/><path d="M110.1,1745.23 H115.6"/><path d="M110.1,1705.96 H115.6"/><path d="M110.1,1666.69 H115.6"/><path d="M110.1,1627.41 H115.6"/><path d="M110.1,1588.14 H115.6"/><path d="M110.1,1548.87 H115.6"/><path d="M110.1,1509.60 H115.6"/></g>
<rect x="334.9" y="1834.8" width="8.1" height="8.1" fill="#005e9c"/>
<clipPath id="pclip"><rect x="37.3" y="1870.0" width="702.5" height="150.79999999999995" rx="7" ry="7"/></clipPath><g clip-path="url(#pclip)"><rect x="37.3" y="1870.0" width="702.5" height="150.79999999999995" fill="#b0dcff"/><rect x="37.3" y="1870.0" width="702.5" height="30.700000000000045" fill="#2d9cdb"/></g>
<path transform="translate(67.10,1965.8)" d="M0,-50.5 C2.5,-45.5 5,-41 7.3,-36.75 L13.75,-27.6 C16,-24.5 18.3,-21.5 20.2,-18.5 C22,-15.5 23.2,-12.5 23.9,-9.3 C24.8,-6 25.2,-3 25.2,0 A25.2,25.2 0 0 1 -25.2,0 C-25.2,-3 -24.8,-6 -23.9,-9.3 C-23.2,-12.5 -22,-15.5 -20.2,-18.5 C-18.3,-21.5 -16,-24.5 -13.75,-27.6 L-7.3,-36.75 C-5,-41 -2.5,-45.5 0,-50.5 Z" fill="#005e9c"/>
<path transform="translate(125.56,1965.8)" d="M0,-50.5 C2.5,-45.5 5,-41 7.3,-36.75 L13.75,-27.6 C16,-24.5 18.3,-21.5 20.2,-18.5 C22,-15.5 23.2,-12.5 23.9,-9.3 C24.8,-6 25.2,-3 25.2,0 A25.2,25.2 0 0 1 -25.2,0 C-25.2,-3 -24.8,-6 -23.9,-9.3 C-23.2,-12.5 -22,-15.5 -20.2,-18.5 C-18.3,-21.5 -16,-24.5 -13.75,-27.6 L-7.3,-36.75 C-5,-41 -2.5,-45.5 0,-50.5 Z" fill="#005e9c"/>
<path transform="translate(184.02,1965.8)" d="M0,-50.5 C2.5,-45.5 5,-41 7.3,-36.75 L13.75,-27.6 C16,-24.5 18.3,-21.5 20.2,-18.5 C22,-15.5 23.2,-12.5 23.9,-9.3 C24.8,-6 25.2,-3 25.2,0 A25.2,25.2 0 0 1 -25.2,0 C-25.2,-3 -24.8,-6 -23.9,-9.3 C-23.2,-12.5 -22,-15.5 -20.2,-18.5 C-18.3,-21.5 -16,-24.5 -13.75,-27.6 L-7.3,-36.75 C-5,-41 -2.5,-45.5 0,-50.5 Z" fill="#005e9c"/>
<path transform="translate(242.48,1965.8)" d="M0,-50.5 C2.5,-45.5 5,-41 7.3,-36.75 L13.75,-27.6 C16,-24.5 18.3,-21.5 20.2,-18.5 C22,-15.5 23.2,-12.5 23.9,-9.3 C24.8,-6 25.2,-3 25.2,0 A25.2,25.2 0 0 1 -25.2,0 C-25.2,-3 -24.8,-6 -23.9,-9.3 C-23.2,-12.5 -22,-15.5 -20.2,-18.5 C-18.3,-21.5 -16,-24.5 -13.75,-27.6 L-7.3,-36.75 C-5,-41 -2.5,-45.5 0,-50.5 Z" fill="#2d9cdb"/>
<path transform="translate(300.94,1965.8)" d="M0,-50.5 C2.5,-45.5 5,-41 7.3,-36.75 L13.75,-27.6 C16,-24.5 18.3,-21.5 20.2,-18.5 C22,-15.5 23.2,-12.5 23.9,-9.3 C24.8,-6 25.2,-3 25.2,0 A25.2,25.2 0 0 1 -25.2,0 C-25.2,-3 -24.8,-6 -23.9,-9.3 C-23.2,-12.5 -22,-15.5 -20.2,-18.5 C-18.3,-21.5 -16,-24.5 -13.75,-27.6 L-7.3,-36.75 C-5,-41 -2.5,-45.5 0,-50.5 Z" fill="#2d9cdb"/>
<path transform="translate(359.40,1965.8)" d="M0,-50.5 C2.5,-45.5 5,-41 7.3,-36.75 L13.75,-27.6 C16,-24.5 18.3,-21.5 20.2,-18.5 C22,-15.5 23.2,-12.5 23.9,-9.3 C24.8,-6 25.2,-3 25.2,0 A25.2,25.2 0 0 1 -25.2,0 C-25.2,-3 -24.8,-6 -23.9,-9.3 C-23.2,-12.5 -22,-15.5 -20.2,-18.5 C-18.3,-21.5 -16,-24.5 -13.75,-27.6 L-7.3,-36.75 C-5,-41 -2.5,-45.5 0,-50.5 Z" fill="#2d9cdb"/>
<path transform="translate(417.86,1965.8)" d="M0,-50.5 C2.5,-45.5 5,-41 7.3,-36.75 L13.75,-27.6 C16,-24.5 18.3,-21.5 20.2,-18.5 C22,-15.5 23.2,-12.5 23.9,-9.3 C24.8,-6 25.2,-3 25.2,0 A25.2,25.2 0 0 1 -25.2,0 C-25.2,-3 -24.8,-6 -23.9,-9.3 C-23.2,-12.5 -22,-15.5 -20.2,-18.5 C-18.3,-21.5 -16,-24.5 -13.75,-27.6 L-7.3,-36.75 C-5,-41 -2.5,-45.5 0,-50.5 Z" fill="#eef6fd"/>
<path transform="translate(476.32,1965.8)" d="M0,-50.5 C2.5,-45.5 5,-41 7.3,-36.75 L13.75,-27.6 C16,-24.5 18.3,-21.5 20.2,-18.5 C22,-15.5 23.2,-12.5 23.9,-9.3 C24.8,-6 25.2,-3 25.2,0 A25.2,25.2 0 0 1 -25.2,0 C-25.2,-3 -24.8,-6 -23.9,-9.3 C-23.2,-12.5 -22,-15.5 -20.2,-18.5 C-18.3,-21.5 -16,-24.5 -13.75,-27.6 L-7.3,-36.75 C-5,-41 -2.5,-45.5 0,-50.5 Z" fill="#eef6fd"/>
<path transform="translate(534.78,1965.8)" d="M0,-50.5 C2.5,-45.5 5,-41 7.3,-36.75 L13.75,-27.6 C16,-24.5 18.3,-21.5 20.2,-18.5 C22,-15.5 23.2,-12.5 23.9,-9.3 C24.8,-6 25.2,-3 25.2,0 A25.2,25.2 0 0 1 -25.2,0 C-25.2,-3 -24.8,-6 -23.9,-9.3 C-23.2,-12.5 -22,-15.5 -20.2,-18.5 C-18.3,-21.5 -16,-24.5 -13.75,-27.6 L-7.3,-36.75 C-5,-41 -2.5,-45.5 0,-50.5 Z" fill="#2d9cdb"/>
<path transform="translate(593.24,1965.8)" d="M0,-50.5 C2.5,-45.5 5,-41 7.3,-36.75 L13.75,-27.6 C16,-24.5 18.3,-21.5 20.2,-18.5 C22,-15.5 23.2,-12.5 23.9,-9.3 C24.8,-6 25.2,-3 25.2,0 A25.2,25.2 0 0 1 -25.2,0 C-25.2,-3 -24.8,-6 -23.9,-9.3 C-23.2,-12.5 -22,-15.5 -20.2,-18.5 C-18.3,-21.5 -16,-24.5 -13.75,-27.6 L-7.3,-36.75 C-5,-41 -2.5,-45.5 0,-50.5 Z" fill="#2d9cdb"/>
<path transform="translate(651.70,1965.8)" d="M0,-50.5 C2.5,-45.5 5,-41 7.3,-36.75 L13.75,-27.6 C16,-24.5 18.3,-21.5 20.2,-18.5 C22,-15.5 23.2,-12.5 23.9,-9.3 C24.8,-6 25.2,-3 25.2,0 A25.2,25.2 0 0 1 -25.2,0 C-25.2,-3 -24.8,-6 -23.9,-9.3 C-23.2,-12.5 -22,-15.5 -20.2,-18.5 C-18.3,-21.5 -16,-24.5 -13.75,-27.6 L-7.3,-36.75 C-5,-41 -2.5,-45.5 0,-50.5 Z" fill="#2d9cdb"/>
<path transform="translate(710.16,1965.8)" d="M0,-50.5 C2.5,-45.5 5,-41 7.3,-36.75 L13.75,-27.6 C16,-24.5 18.3,-21.5 20.2,-18.5 C22,-15.5 23.2,-12.5 23.9,-9.3 C24.8,-6 25.2,-3 25.2,0 A25.2,25.2 0 0 1 -25.2,0 C-25.2,-3 -24.8,-6 -23.9,-9.3 C-23.2,-12.5 -22,-15.5 -20.2,-18.5 C-18.3,-21.5 -16,-24.5 -13.75,-27.6 L-7.3,-36.75 C-5,-41 -2.5,-45.5 0,-50.5 Z" fill="#005e9c"/>
<rect x="0" y="2082.7" width="1200" height="57.3" fill="#005e9c"/>
<g fill="none" stroke="#b0dcff" stroke-width="2.9"><circle cx="58.3" cy="2111.3" r="16.9"/><circle cx="106.8" cy="2111.3" r="16.9"/><circle cx="155" cy="2111.3" r="16.9"/></g><g fill="#b0dcff"><circle cx="106.3" cy="2102" r="2.9"/><path d="M101.3,2105.7 h10 v8.3 h-1.7 v9 h-6.3 v-9 h-2 z"/><rect x="148.4" y="2107.3" width="13.6" height="2.9"/><rect x="148.4" y="2113" width="13.6" height="2.9"/></g>
<text x="443.42" y="89.00" font-family="'DejaVu Sans', 'Liberation Sans', sans-serif" font-size="62.40" fill="#fff" font-weight="700" textLength="315.16" lengthAdjust="spacingAndGlyphs">MOLYVOS</text>
<text x="566.79" y="130.80" font-family="'DejaVu Sans', 'Liberation Sans', sans-serif" font-size="18.20" fill="#fff" textLength="64.02" lengthAdjust="spacingAndGlyphs">GRECJA</text>
<text y="231.30" font-family="'DejaVu Sans', 'Liberation Sans', sans-serif" font-size="31.20" fill="#005e9c" font-weight="700"><tspan x="125.00" textLength="174.28" lengthAdjust="spacingAndGlyphs">NAJCIEPLEJ</tspan> <tspan x="307.59" textLength="30.94" lengthAdjust="spacingAndGlyphs">W</tspan> <tspan x="346.84" textLength="148.16" lengthAdjust="spacingAndGlyphs">SIERPNIU</tspan></text>
<text y="269.00" font-family="'DejaVu Sans', 'Liberation Sans', sans-serif" font-size="18.33" fill="#005e9c"><tspan x="215.00" textLength="71.56" lengthAdjust="spacingAndGlyphs">Sierpień</tspan> <tspan x="291.44" textLength="30.94" lengthAdjust="spacingAndGlyphs">jest</tspan> <tspan x="327.25" textLength="127.06" lengthAdjust="spacingAndGlyphs">najcieplejszym</tspan> <tspan x="459.19" textLength="93.73" lengthAdjust="spacingAndGlyphs">miesiącem</tspan> <tspan x="557.80" textLength="14.56" lengthAdjust="spacingAndGlyphs">w</tspan></text>
<text y="292.55" font-family="'DejaVu Sans', 'Liberation Sans', sans-serif" font-size="18.33" fill="#005e9c"><tspan x="215.00" textLength="115.20" lengthAdjust="spacingAndGlyphs">miejscowości</tspan> <tspan x="335.09" textLength="76.84" lengthAdjust="spacingAndGlyphs">Molyvos,</tspan> <tspan x="416.80" textLength="71.47" lengthAdjust="spacingAndGlyphs">podczas</tspan> <tspan x="493.14" textLength="67.58" lengthAdjust="spacingAndGlyphs">którego</tspan></text>
<text y="316.10" font-family="'DejaVu Sans', 'Liberation Sans', sans-serif" font-size="18.33" fill="#005e9c"><tspan x="215.00" textLength="65.47" lengthAdjust="spacingAndGlyphs">średnie</tspan> <tspan x="285.36" textLength="110.08" lengthAdjust="spacingAndGlyphs">temperatury</tspan> <tspan x="400.31" textLength="110.69" lengthAdjust="spacingAndGlyphs">maksymalne</tspan> <tspan x="515.86" textLength="85.34" lengthAdjust="spacingAndGlyphs">dochodzą</tspan></text>
<text y="339.65" font-family="'DejaVu Sans', 'Liberation Sans', sans-serif" font-size="18.33" fill="#005e9c"><tspan x="215.00" textLength="22.80" lengthAdjust="spacingAndGlyphs">do</tspan> <tspan x="242.67" textLength="46.22" lengthAdjust="spacingAndGlyphs">30°C,</tspan> <tspan x="293.77" textLength="10.44" lengthAdjust="spacingAndGlyphs">a</tspan> <tspan x="309.08" textLength="93.03" lengthAdjust="spacingAndGlyphs">minimalne</tspan> <tspan x="406.97" textLength="71.25" lengthAdjust="spacingAndGlyphs">osiągają</tspan> <tspan x="483.09" textLength="46.30" lengthAdjust="spacingAndGlyphs">22°C.</tspan></text>
<text y="421.60" font-family="'DejaVu Sans', 'Liberation Sans', sans-serif" font-size="31.20" fill="#005e9c" font-weight="700"><tspan x="125.00" textLength="183.11" lengthAdjust="spacingAndGlyphs">NAJZIMNIEJ</tspan> <tspan x="316.42" textLength="30.94" lengthAdjust="spacingAndGlyphs">W</tspan> <tspan x="355.67" textLength="155.84" lengthAdjust="spacingAndGlyphs">STYCZNIU</tspan></text>
<text y="462.60" font-family="'DejaVu Sans', 'Liberation Sans', sans-serif" font-size="18.33" fill="#005e9c"><tspan x="215.00" textLength="90.78" lengthAdjust="spacingAndGlyphs">Natomiast</tspan> <tspan x="310.67" textLength="133.73" lengthAdjust="spacingAndGlyphs">najzimniejszym</tspan> <tspan x="449.27" textLength="93.73" lengthAdjust="spacingAndGlyphs">miesiącem</tspan> <tspan x="547.88" textLength="14.56" lengthAdjust="spacingAndGlyphs">w</tspan> <tspan x="567.31" textLength="40.38" lengthAdjust="spacingAndGlyphs">roku</tspan></text>
<text y="486.15" font-family="'DejaVu Sans', 'Liberation Sans', sans-serif" font-size="18.33" fill="#005e9c"><tspan x="215.00" textLength="30.94" lengthAdjust="spacingAndGlyphs">jest</tspan> <tspan x="250.81" textLength="69.78" lengthAdjust="spacingAndGlyphs">styczeń,</tspan> <tspan x="325.47" textLength="8.81" lengthAdjust="spacingAndGlyphs">z</tspan> <tspan x="339.16" textLength="131.67" lengthAdjust="spacingAndGlyphs">maksymalnymi</tspan> <tspan x="475.70" textLength="133.23" lengthAdjust="spacingAndGlyphs">temperaturami</tspan></text>
<text y="509.70" font-family="'DejaVu Sans', 'Liberation Sans', sans-serif" font-size="18.33" fill="#005e9c"><tspan x="215.00" textLength="21.97" lengthAdjust="spacingAndGlyphs">na</tspan> <tspan x="241.84" textLength="80.31" lengthAdjust="spacingAndGlyphs">poziomie</tspan> <tspan x="327.03" textLength="41.36" lengthAdjust="spacingAndGlyphs">12°C</tspan> <tspan x="373.25" textLength="38.22" lengthAdjust="spacingAndGlyphs">oraz</tspan> <tspan x="416.34" textLength="88.34" lengthAdjust="spacingAndGlyphs">minimami</tspan> <tspan x="509.56" textLength="14.56" lengthAdjust="spacingAndGlyphs">w</tspan></text>
<text y="533.25" font-family="'DejaVu Sans', 'Liberation Sans', sans-serif" font-size="18.33" fill="#005e9c"><tspan x="215.00" textLength="81.91" lengthAdjust="spacingAndGlyphs">okolicach</tspan> <tspan x="301.78" textLength="35.55" lengthAdjust="spacingAndGlyphs">7°C.</tspan></text>
<text y="235.00" font-family="'DejaVu Sans', 'Liberation Sans', sans-serif" font-size="18.04" fill="#005e9c" font-weight="700" transform="rotate(90 1154.6 235)"><tspan x="1154.60" textLength="29.08" lengthAdjust="spacingAndGlyphs">39°</tspan> <tspan x="1188.49" textLength="26.09" lengthAdjust="spacingAndGlyphs">22'</tspan> <tspan x="1219.38" textLength="19.33" lengthAdjust="spacingAndGlyphs">4"</tspan> <tspan x="1243.49" textLength="15.05" lengthAdjust="spacingAndGlyphs">N</tspan> <tspan x="1263.33" textLength="18.50" lengthAdjust="spacingAndGlyphs">—</tspan> <tspan x="1286.65" textLength="29.08" lengthAdjust="spacingAndGlyphs">26°</tspan> <tspan x="1320.52" textLength="26.09" lengthAdjust="spacingAndGlyphs">10'</tspan> <tspan x="1351.41" textLength="29.91" lengthAdjust="spacingAndGlyphs">26"</tspan> <tspan x="1386.12" textLength="10.38" lengthAdjust="spacingAndGlyphs">E</tspan></text>
<text y="235.50" font-family="'DejaVu Sans', 'Liberation Sans', sans-serif" font-size="13.00" fill="#005e9c" transform="rotate(90 1137.6 235.5)"><tspan x="1137.60" textLength="42.55" lengthAdjust="spacingAndGlyphs">WYSPY</tspan> <tspan x="1183.60" textLength="54.69" lengthAdjust="spacingAndGlyphs">EGEJSKIE</tspan></text>
<text x="446.09" y="663.30" font-family="'DejaVu Sans', 'Liberation Sans', sans-serif" font-size="40.95" fill="#005e9c" font-weight="700" textLength="306.83" lengthAdjust="spacingAndGlyphs">TEMPERATURA</text>
<text x="526.46" y="1419.00" font-family="'DejaVu Sans', 'Liberation Sans', sans-serif" font-size="40.95" fill="#005e9c" font-weight="700" textLength="146.08" lengthAdjust="spacingAndGlyphs">OPADY</text>
<text x="74.32" y="1029.30" font-family="'DejaVu Sans', 'Liberation Sans', sans-serif" font-size="10.90" fill="#005e9c" textLength="19.98" lengthAdjust="spacingAndGlyphs">0°C</text>
<text x="74.32" y="983.45" font-family="'DejaVu Sans', 'Liberation Sans', sans-serif" font-size="10.90" fill="#005e9c" textLength="19.98" lengthAdjust="spacingAndGlyphs">5°C</text>
<text x="67.38" y="937.60" font-family="'DejaVu Sans', 'Liberation Sans', sans-serif" font-size="10.90" fill="#005e9c" textLength="26.92" lengthAdjust="spacingAndGlyphs">10°C</text>
<text x="67.38" y="891.75" font-family="'DejaVu Sans', 'Liberation Sans', sans-serif" font-size="10.90" fill="#005e9c" textLength="26.92" lengthAdjust="spacingAndGlyphs">15°C</text>
<text x="67.38" y="845.90" font-family="'DejaVu Sans', 'Liberation Sans', sans-serif" font-size="10.90" fill="#005e9c" textLength="26.92" lengthAdjust="spacingAndGlyphs">20°C</text>
<text x="67.38" y="800.05" font-family="'DejaVu Sans', 'Liberation Sans', sans-serif" font-size="10.90" fill="#005e9c" textLength="26.92" lengthAdjust="spacingAndGlyphs">25°C</text>
<text x="67.38" y="754.20" font-family="'DejaVu Sans', 'Liberation Sans', sans-serif" font-size="10.90" fill="#005e9c" textLength="26.92" lengthAdjust="spacingAndGlyphs">30°C</text>
<text x="119.55" y="1045.70" font-family="'DejaVu Sans', 'Liberation Sans', sans-serif" font-size="12.30" fill="#005e9c" textLength="19.91" lengthAdjust="spacingAndGlyphs">Sty</text>
<text x="172.05" y="1045.70" font-family="'DejaVu Sans', 'Liberation Sans', sans-serif" font-size="12.30" fill="#005e9c" textLength="19.25" lengthAdjust="spacingAndGlyphs">Lut</text>
<text x="222.24" y="1045.70" font-family="'DejaVu Sans', 'Liberation Sans', sans-serif" font-size="12.30" fill="#005e9c" textLength="23.20" lengthAdjust="spacingAndGlyphs">Mar</text>
<text x="275.24" y="1045.70" font-family="'DejaVu Sans', 'Liberation Sans', sans-serif" font-size="12.30" fill="#005e9c" textLength="21.55" lengthAdjust="spacingAndGlyphs">Kwi</text>
<text x="327.40" y="1045.70" font-family="'DejaVu Sans', 'Liberation Sans', sans-serif" font-size="12.30" fill="#005e9c" textLength="21.56" lengthAdjust="spacingAndGlyphs">Maj</text>
<text x="379.05" y="1045.70" font-family="'DejaVu Sans', 'Liberation Sans', sans-serif" font-size="12.30" fill="#005e9c" textLength="22.61" lengthAdjust="spacingAndGlyphs">Cze</text>
<text x="433.48" y="1045.70" font-family="'DejaVu Sans', 'Liberation Sans', sans-serif" font-size="12.30" fill="#005e9c" textLength="18.08" lengthAdjust="spacingAndGlyphs">Lip</text>
<text x="485.29" y="1045.70" font-family="'DejaVu Sans', 'Liberation Sans', sans-serif" font-size="12.30" fill="#005e9c" textLength="18.80" lengthAdjust="spacingAndGlyphs">Sie</text>
<text x="535.30" y="1045.70" font-family="'DejaVu Sans', 'Liberation Sans', sans-serif" font-size="12.30" fill="#005e9c" textLength="23.12" lengthAdjust="spacingAndGlyphs">Wrz</text>
<text x="588.60" y="1045.70" font-family="'DejaVu Sans', 'Liberation Sans', sans-serif" font-size="12.30" fill="#005e9c" textLength="20.86" lengthAdjust="spacingAndGlyphs">Paź</text>
<text x="642.86" y="1045.70" font-family="'DejaVu Sans', 'Liberation Sans', sans-serif" font-size="12.30" fill="#005e9c" textLength="16.69" lengthAdjust="spacingAndGlyphs">Lis</text>
<text x="692.17" y="1045.70" font-family="'DejaVu Sans', 'Liberation Sans', sans-serif" font-size="12.30" fill="#005e9c" textLength="22.39" lengthAdjust="spacingAndGlyphs">Gru</text>
<text x="9.44" y="888.50" font-family="'DejaVu Sans', 'Liberation Sans', sans-serif" font-size="12.80" fill="#005e9c" transform="rotate(-90 50.1 888.5)" textLength="81.31" lengthAdjust="spacingAndGlyphs">Temperatura</text>
<text x="157.30" y="1084.20" font-family="'DejaVu Sans', 'Liberation Sans', sans-serif" font-size="12.50" fill="#005e9c" textLength="223.06" lengthAdjust="spacingAndGlyphs">Temperatura maksymalna (średnia)</text>
<text x="448.50" y="1084.20" font-family="'DejaVu Sans', 'Liberation Sans', sans-serif" font-size="12.50" fill="#005e9c" textLength="209.12" lengthAdjust="spacingAndGlyphs">Temperatura minimalna (średnia)</text>
<text y="764.00" font-family="'DejaVu Sans', 'Liberation Sans', sans-serif" font-size="18.43" fill="#005e9c" font-weight="700"><tspan x="785.00" textLength="82.09" lengthAdjust="spacingAndGlyphs">ŚREDNIA</tspan> <tspan x="872.00" textLength="78.88" lengthAdjust="spacingAndGlyphs">ROCZNA</tspan> <tspan x="955.78" textLength="138.00" lengthAdjust="spacingAndGlyphs">TEMPERATURA</tspan></text>
<text y="808.80" font-family="'DejaVu Sans', 'Liberation Sans', sans-serif" font-size="18.33" fill="#005e9c"><tspan x="785.00" textLength="7.06" lengthAdjust="spacingAndGlyphs">•</tspan> <tspan x="796.95" textLength="66.72" lengthAdjust="spacingAndGlyphs">Średnia</tspan> <tspan x="868.53" textLength="110.58" lengthAdjust="spacingAndGlyphs">maksymalna</tspan> <tspan x="983.98" textLength="58.73" lengthAdjust="spacingAndGlyphs">roczna</tspan></text>
<text y="832.50" font-family="'DejaVu Sans', 'Liberation Sans', sans-serif" font-size="18.33" fill="#005e9c"><tspan x="785.00" textLength="111.11" lengthAdjust="spacingAndGlyphs">temperatura</tspan> <tspan x="900.98" textLength="60.48" lengthAdjust="spacingAndGlyphs">wynosi</tspan> <tspan x="966.34" textLength="57.03" lengthAdjust="spacingAndGlyphs">20.4°C</tspan></text>
<text y="879.90" font-family="'DejaVu Sans', 'Liberation Sans', sans-serif" font-size="18.33" fill="#005e9c"><tspan x="785.00" textLength="7.06" lengthAdjust="spacingAndGlyphs">•</tspan> <tspan x="796.95" textLength="66.72" lengthAdjust="spacingAndGlyphs">Średnia</tspan> <tspan x="868.53" textLength="92.92" lengthAdjust="spacingAndGlyphs">minimalna</tspan> <tspan x="966.31" textLength="58.73" lengthAdjust="spacingAndGlyphs">roczna</tspan> <tspan x="1029.92" textLength="111.11" lengthAdjust="spacingAndGlyphs">temperatura</tspan></text>
<text y="903.60" font-family="'DejaVu Sans', 'Liberation Sans', sans-serif" font-size="18.33" fill="#005e9c"><tspan x="785.00" textLength="44.88" lengthAdjust="spacingAndGlyphs">sięga</tspan> <tspan x="834.77" textLength="57.03" lengthAdjust="spacingAndGlyphs">14.1°C</tspan></text>
<text y="951.00" font-family="'DejaVu Sans', 'Liberation Sans', sans-serif" font-size="18.33" fill="#005e9c"><tspan x="785.00" textLength="7.06" lengthAdjust="spacingAndGlyphs">•</tspan> <tspan x="796.95" textLength="101.88" lengthAdjust="spacingAndGlyphs">Uśredniona</tspan> <tspan x="903.69" textLength="70.58" lengthAdjust="spacingAndGlyphs">dobowa</tspan> <tspan x="979.14" textLength="111.11" lengthAdjust="spacingAndGlyphs">temperatura</tspan> <tspan x="1095.12" textLength="26.67" lengthAdjust="spacingAndGlyphs">dla</tspan></text>
<text y="974.70" font-family="'DejaVu Sans', 'Liberation Sans', sans-serif" font-size="18.33" fill="#005e9c"><tspan x="785.00" textLength="56.22" lengthAdjust="spacingAndGlyphs">całego</tspan> <tspan x="846.11" textLength="40.38" lengthAdjust="spacingAndGlyphs">roku</tspan> <tspan x="891.34" textLength="83.00" lengthAdjust="spacingAndGlyphs">kształtuje</tspan> <tspan x="979.22" textLength="24.25" lengthAdjust="spacingAndGlyphs">się</tspan> <tspan x="1008.33" textLength="21.97" lengthAdjust="spacingAndGlyphs">na</tspan> <tspan x="1035.16" textLength="80.31" lengthAdjust="spacingAndGlyphs">poziomie</tspan></text>
<text x="785.00" y="998.40" font-family="'DejaVu Sans', 'Liberation Sans', sans-serif" font-size="18.33" fill="#005e9c" textLength="57.03" lengthAdjust="spacingAndGlyphs">17.2°C</text>
<text y="1153.80" font-family="'DejaVu Sans', 'Liberation Sans', sans-serif" font-size="21.45" fill="#005e9c" font-weight="700"><tspan x="463.82" textLength="160.72" lengthAdjust="spacingAndGlyphs">TEMPERATURA</tspan> <tspan x="630.25" textLength="102.55" lengthAdjust="spacingAndGlyphs">DOBOWA</tspan></text>
<text x="72.38" y="1211.50" font-family="'DejaVu Sans', 'Liberation Sans', sans-serif" font-size="16.28" fill="#000" font-weight="700" fill-opacity="0.52" textLength="29.28" lengthAdjust="spacingAndGlyphs">STY</text>
<text x="74.19" y="1270.50" font-family="'DejaVu Sans', 'Liberation Sans', sans-serif" font-size="26.00" fill="#000" font-weight="700" fill-opacity="0.52" textLength="26.66" lengthAdjust="spacingAndGlyphs">9°</text>
<text x="164.39" y="1211.50" font-family="'DejaVu Sans', 'Liberation Sans', sans-serif" font-size="16.28" fill="#000" font-weight="700" fill-opacity="0.52" textLength="31.72" lengthAdjust="spacingAndGlyphs">LUT</text>
<text x="159.80" y="1270.50" font-family="'DejaVu Sans', 'Liberation Sans', sans-serif" font-size="26.00" fill="#000" font-weight="700" fill-opacity="0.52" textLength="41.91" lengthAdjust="spacingAndGlyphs">10°</text>
<text x="254.35" y="1211.50" font-family="'DejaVu Sans', 'Liberation Sans', sans-serif" font-size="16.28" fill="#000" font-weight="700" fill-opacity="0.52" textLength="38.27" lengthAdjust="spacingAndGlyphs">MAR</text>
<text x="253.03" y="1270.50" font-family="'DejaVu Sans', 'Liberation Sans', sans-serif" font-size="26.00" fill="#000" font-weight="700" fill-opacity="0.52" textLength="41.91" lengthAdjust="spacingAndGlyphs">12°</text>
<text x="350.34" y="1211.50" font-family="'DejaVu Sans', 'Liberation Sans', sans-serif" font-size="16.28" fill="#000" font-weight="700" fill-opacity="0.52" textLength="32.75" lengthAdjust="spacingAndGlyphs">KWI</text>
<text x="346.26" y="1270.50" font-family="'DejaVu Sans', 'Liberation Sans', sans-serif" font-size="26.00" fill="#000" font-weight="700" fill-opacity="0.52" textLength="41.91" lengthAdjust="spacingAndGlyphs">15°</text>
<text x="443.56" y="1211.50" font-family="'DejaVu Sans', 'Liberation Sans', sans-serif" font-size="16.28" fill="#000" font-weight="700" fill-opacity="0.52" textLength="32.78" lengthAdjust="spacingAndGlyphs">MAJ</text>
<text x="439.50" y="1270.50" font-family="'DejaVu Sans', 'Liberation Sans', sans-serif" font-size="26.00" fill="#000" font-weight="700" fill-opacity="0.52" textLength="41.91" lengthAdjust="spacingAndGlyphs">19°</text>
<text x="538.36" y="1211.50" font-family="'DejaVu Sans', 'Liberation Sans', sans-serif" font-size="16.28" fill="#000" font-weight="700" fill-opacity="0.52" textLength="29.66" lengthAdjust="spacingAndGlyphs">CZE</text>
<text x="532.73" y="1270.50" font-family="'DejaVu Sans', 'Liberation Sans', sans-serif" font-size="26.00" fill="#000" font-weight="700" fill-opacity="0.52" textLength="41.91" lengthAdjust="spacingAndGlyphs">23°</text>
<text x="633.70" y="1211.50" font-family="'DejaVu Sans', 'Liberation Sans', sans-serif" font-size="16.28" fill="#000" font-weight="700" fill-opacity="0.52" textLength="25.44" lengthAdjust="spacingAndGlyphs">LIP</text>
<text x="625.96" y="1270.50" font-family="'DejaVu Sans', 'Liberation Sans', sans-serif" font-size="26.00" fill="#000" font-weight="700" fill-opacity="0.52" textLength="41.91" lengthAdjust="spacingAndGlyphs">26°</text>
<text x="727.62" y="1211.50" font-family="'DejaVu Sans', 'Liberation Sans', sans-serif" font-size="16.28" fill="#000" font-weight="700" fill-opacity="0.52" textLength="24.06" lengthAdjust="spacingAndGlyphs">SIE</text>
<text x="719.20" y="1270.50" font-family="'DejaVu Sans', 'Liberation Sans', sans-serif" font-size="26.00" fill="#000" font-weight="700" fill-opacity="0.52" textLength="41.91" lengthAdjust="spacingAndGlyphs">26°</text>
<text x="814.47" y="1211.50" font-family="'DejaVu Sans', 'Liberation Sans', sans-serif" font-size="16.28" fill="#000" font-weight="700" fill-opacity="0.52" textLength="36.83" lengthAdjust="spacingAndGlyphs">WRZ</text>
<text x="812.43" y="1270.50" font-family="'DejaVu Sans', 'Liberation Sans', sans-serif" font-size="26.00" fill="#000" font-weight="700" fill-opacity="0.52" textLength="41.91" lengthAdjust="spacingAndGlyphs">23°</text>
<text x="910.29" y="1211.50" font-family="'DejaVu Sans', 'Liberation Sans', sans-serif" font-size="16.28" fill="#000" font-weight="700" fill-opacity="0.52" textLength="31.66" lengthAdjust="spacingAndGlyphs">PAŹ</text>
<text x="905.66" y="1270.50" font-family="'DejaVu Sans', 'Liberation Sans', sans-serif" font-size="26.00" fill="#000" font-weight="700" fill-opacity="0.52" textLength="41.91" lengthAdjust="spacingAndGlyphs">18°</text>
<text x="1007.27" y="1211.50" font-family="'DejaVu Sans', 'Liberation Sans', sans-serif" font-size="16.28" fill="#000" font-weight="700" fill-opacity="0.52" textLength="24.16" lengthAdjust="spacingAndGlyphs">LIS</text>
<text x="998.90" y="1270.50" font-family="'DejaVu Sans', 'Liberation Sans', sans-serif" font-size="26.00" fill="#000" font-weight="700" fill-opacity="0.52" textLength="41.91" lengthAdjust="spacingAndGlyphs">15°</text>
<text x="1094.72" y="1211.50" font-family="'DejaVu Sans', 'Liberation Sans', sans-serif" font-size="16.28" fill="#000" font-weight="700" fill-opacity="0.52" textLength="35.72" lengthAdjust="spacingAndGlyphs">GRU</text>
<text x="1092.13" y="1270.50" font-family="'DejaVu Sans', 'Liberation Sans', sans-serif" font-size="26.00" fill="#000" font-weight="700" fill-opacity="0.52" textLength="41.91" lengthAdjust="spacingAndGlyphs">11°</text>
<text x="74.02" y="1788.10" font-family="'DejaVu Sans', 'Liberation Sans', sans-serif" font-size="10.50" fill="#005e9c" textLength="30.48" lengthAdjust="spacingAndGlyphs">0 mm</text>
<text x="67.34" y="1748.83" font-family="'DejaVu Sans', 'Liberation Sans', sans-serif" font-size="10.50" fill="#005e9c" textLength="37.16" lengthAdjust="spacingAndGlyphs">20 mm</text>
<text x="67.34" y="1709.56" font-family="'DejaVu Sans', 'Liberation Sans', sans-serif" font-size="10.50" fill="#005e9c" textLength="37.16" lengthAdjust="spacingAndGlyphs">40 mm</text>
<text x="67.34" y="1670.29" font-family="'DejaVu Sans', 'Liberation Sans', sans-serif" font-size="10.50" fill="#005e9c" textLength="37.16" lengthAdjust="spacingAndGlyphs">60 mm</text>
<text x="67.34" y="1631.01" font-family="'DejaVu Sans', 'Liberation Sans', sans-serif" font-size="10.50" fill="#005e9c" textLength="37.16" lengthAdjust="spacingAndGlyphs">80 mm</text>
<text x="60.66" y="1591.74" font-family="'DejaVu Sans', 'Liberation Sans', sans-serif" font-size="10.50" fill="#005e9c" textLength="43.84" lengthAdjust="spacingAndGlyphs">100 mm</text>
<text x="60.66" y="1552.47" font-family="'DejaVu Sans', 'Liberation Sans', sans-serif" font-size="10.50" fill="#005e9c" textLength="43.84" lengthAdjust="spacingAndGlyphs">120 mm</text>
<text x="60.66" y="1513.20" font-family="'DejaVu Sans', 'Liberation Sans', sans-serif" font-size="10.50" fill="#005e9c" textLength="43.84" lengthAdjust="spacingAndGlyphs">140 mm</text>
<text x="129.45" y="1804.60" font-family="'DejaVu Sans', 'Liberation Sans', sans-serif" font-size="12.30" fill="#005e9c" textLength="19.91" lengthAdjust="spacingAndGlyphs">Sty</text>
<text x="181.05" y="1804.60" font-family="'DejaVu Sans', 'Liberation Sans', sans-serif" font-size="12.30" fill="#005e9c" textLength="19.25" lengthAdjust="spacingAndGlyphs">Lut</text>
<text x="230.34" y="1804.60" font-family="'DejaVu Sans', 'Liberation Sans', sans-serif" font-size="12.30" fill="#005e9c" textLength="23.20" lengthAdjust="spacingAndGlyphs">Mar</text>
<text x="282.44" y="1804.60" font-family="'DejaVu Sans', 'Liberation Sans', sans-serif" font-size="12.30" fill="#005e9c" textLength="21.55" lengthAdjust="spacingAndGlyphs">Kwi</text>
<text x="333.70" y="1804.60" font-family="'DejaVu Sans', 'Liberation Sans', sans-serif" font-size="12.30" fill="#005e9c" textLength="21.56" lengthAdjust="spacingAndGlyphs">Maj</text>
<text x="384.45" y="1804.60" font-family="'DejaVu Sans', 'Liberation Sans', sans-serif" font-size="12.30" fill="#005e9c" textLength="22.61" lengthAdjust="spacingAndGlyphs">Cze</text>
<text x="437.98" y="1804.60" font-family="'DejaVu Sans', 'Liberation Sans', sans-serif" font-size="12.30" fill="#005e9c" textLength="18.08" lengthAdjust="spacingAndGlyphs">Lip</text>
<text x="488.89" y="1804.60" font-family="'DejaVu Sans', 'Liberation Sans', sans-serif" font-size="12.30" fill="#005e9c" textLength="18.80" lengthAdjust="spacingAndGlyphs">Sie</text>
<text x="538.00" y="1804.60" font-family="'DejaVu Sans', 'Liberation Sans', sans-serif" font-size="12.30" fill="#005e9c" textLength="23.12" lengthAdjust="spacingAndGlyphs">Wrz</text>
<text x="590.40" y="1804.60" font-family="'DejaVu Sans', 'Liberation Sans', sans-serif" font-size="12.30" fill="#005e9c" textLength="20.86" lengthAdjust="spacingAndGlyphs">Paź</text>
<text x="643.76" y="1804.60" font-family="'DejaVu Sans', 'Liberation Sans', sans-serif" font-size="12.30" fill="#005e9c" textLength="16.69" lengthAdjust="spacingAndGlyphs">Lis</text>
<text x="692.17" y="1804.60" font-family="'DejaVu Sans', 'Liberation Sans', sans-serif" font-size="12.30" fill="#005e9c" textLength="22.39" lengthAdjust="spacingAndGlyphs">Gru</text>
<text x="28.73" y="1647.00" font-family="'DejaVu Sans', 'Liberation Sans', sans-serif" font-size="12.80" fill="#005e9c" transform="rotate(-90 49.6 1647)" textLength="41.73" lengthAdjust="spacingAndGlyphs">Opady</text>
<text x="351.20" y="1842.90" font-family="'DejaVu Sans', 'Liberation Sans', sans-serif" font-size="12.50" fill="#005e9c" textLength="88.72" lengthAdjust="spacingAndGlyphs">Suma opadów</text>
<text y="1522.60" font-family="'DejaVu Sans', 'Liberation Sans', sans-serif" font-size="18.33" fill="#005e9c"><tspan x="785.00" textLength="66.72" lengthAdjust="spacingAndGlyphs">Średnia</tspan> <tspan x="856.59" textLength="58.73" lengthAdjust="spacingAndGlyphs">roczna</tspan> <tspan x="920.20" textLength="48.30" lengthAdjust="spacingAndGlyphs">suma</tspan> <tspan x="973.38" textLength="70.58" lengthAdjust="spacingAndGlyphs">opadów</tspan> <tspan x="1048.81" textLength="14.56" lengthAdjust="spacingAndGlyphs">w</tspan></text>
<text y="1546.30" font-family="'DejaVu Sans', 'Liberation Sans', sans-serif" font-size="18.33" fill="#005e9c"><tspan x="785.00" textLength="115.20" lengthAdjust="spacingAndGlyphs">miejscowości</tspan> <tspan x="905.09" textLength="71.98" lengthAdjust="spacingAndGlyphs">Molyvos</tspan> <tspan x="981.94" textLength="18.00" lengthAdjust="spacingAndGlyphs">to</tspan> <tspan x="1004.81" textLength="48.52" lengthAdjust="spacingAndGlyphs">około</tspan> <tspan x="1058.19" textLength="32.22" lengthAdjust="spacingAndGlyphs">643</tspan> <tspan x="1095.28" textLength="39.72" lengthAdjust="spacingAndGlyphs">mm.</tspan></text>
<text y="1570.00" font-family="'DejaVu Sans', 'Liberation Sans', sans-serif" font-size="18.33" fill="#005e9c"><tspan x="785.00" textLength="67.39" lengthAdjust="spacingAndGlyphs">Różnica</tspan> <tspan x="857.27" textLength="85.17" lengthAdjust="spacingAndGlyphs">pomiędzy</tspan> <tspan x="947.31" textLength="108.77" lengthAdjust="spacingAndGlyphs">najwyższymi</tspan> <tspan x="1060.95" textLength="77.28" lengthAdjust="spacingAndGlyphs">opadami</tspan></text>
<text y="1593.70" font-family="'DejaVu Sans', 'Liberation Sans', sans-serif" font-size="18.33" fill="#005e9c"><tspan x="785.00" textLength="76.00" lengthAdjust="spacingAndGlyphs">(styczeń)</tspan> <tspan x="865.88" textLength="4.75" lengthAdjust="spacingAndGlyphs">i</tspan> <tspan x="875.50" textLength="101.06" lengthAdjust="spacingAndGlyphs">najniższymi</tspan> <tspan x="981.44" textLength="81.30" lengthAdjust="spacingAndGlyphs">(sierpień)</tspan> <tspan x="1067.59" textLength="60.48" lengthAdjust="spacingAndGlyphs">wynosi</tspan></text>
<text y="1617.40" font-family="'DejaVu Sans', 'Liberation Sans', sans-serif" font-size="18.33" fill="#005e9c"><tspan x="785.00" textLength="32.22" lengthAdjust="spacingAndGlyphs">136</tspan> <tspan x="822.11" textLength="39.72" lengthAdjust="spacingAndGlyphs">mm.</tspan></text>
<text y="1664.80" font-family="'DejaVu Sans', 'Liberation Sans', sans-serif" font-size="18.33" fill="#005e9c"><tspan x="785.00" textLength="83.45" lengthAdjust="spacingAndGlyphs">Najwięcej</tspan> <tspan x="873.33" textLength="70.58" lengthAdjust="spacingAndGlyphs">opadów</tspan> <tspan x="948.78" textLength="67.70" lengthAdjust="spacingAndGlyphs">pojawia</tspan> <tspan x="1021.34" textLength="24.25" lengthAdjust="spacingAndGlyphs">się</tspan> <tspan x="1050.47" textLength="14.56" lengthAdjust="spacingAndGlyphs">w</tspan></text>
<text y="1688.50" font-family="'DejaVu Sans', 'Liberation Sans', sans-serif" font-size="18.33" fill="#005e9c"><tspan x="785.00" textLength="75.50" lengthAdjust="spacingAndGlyphs">styczniu,</tspan> <tspan x="865.38" textLength="14.56" lengthAdjust="spacingAndGlyphs">w</tspan> <tspan x="884.81" textLength="33.50" lengthAdjust="spacingAndGlyphs">tym</tspan> <tspan x="923.19" textLength="63.64" lengthAdjust="spacingAndGlyphs">okresie</tspan> <tspan x="991.69" textLength="96.67" lengthAdjust="spacingAndGlyphs">miesięczna</tspan> <tspan x="1093.23" textLength="48.30" lengthAdjust="spacingAndGlyphs">suma</tspan></text>
<text y="1712.20" font-family="'DejaVu Sans', 'Liberation Sans', sans-serif" font-size="18.33" fill="#005e9c"><tspan x="785.00" textLength="70.58" lengthAdjust="spacingAndGlyphs">opadów</tspan> <tspan x="860.45" textLength="70.20" lengthAdjust="spacingAndGlyphs">oscyluje</tspan> <tspan x="935.53" textLength="51.77" lengthAdjust="spacingAndGlyphs">wokół</tspan> <tspan x="992.17" textLength="32.22" lengthAdjust="spacingAndGlyphs">138</tspan> <tspan x="1029.27" textLength="39.64" lengthAdjust="spacingAndGlyphs">mm,</tspan> <tspan x="1073.78" textLength="10.44" lengthAdjust="spacingAndGlyphs">a</tspan></text>
<text y="1735.90" font-family="'DejaVu Sans', 'Liberation Sans', sans-serif" font-size="18.33" fill="#005e9c"><tspan x="785.00" textLength="192.33" lengthAdjust="spacingAndGlyphs">prawdopodobieństwo</tspan> <tspan x="982.20" textLength="25.27" lengthAdjust="spacingAndGlyphs">ich</tspan> <tspan x="1012.34" textLength="103.53" lengthAdjust="spacingAndGlyphs">wystąpienia</tspan></text>
<text y="1759.60" font-family="'DejaVu Sans', 'Liberation Sans', sans-serif" font-size="18.33" fill="#005e9c"><tspan x="785.00" textLength="60.48" lengthAdjust="spacingAndGlyphs">wynosi</tspan> <tspan x="850.36" textLength="48.52" lengthAdjust="spacingAndGlyphs">około</tspan> <tspan x="903.73" textLength="41.94" lengthAdjust="spacingAndGlyphs">34%.</tspan> <tspan x="950.55" textLength="90.78" lengthAdjust="spacingAndGlyphs">Natomiast</tspan> <tspan x="1046.22" textLength="75.64" lengthAdjust="spacingAndGlyphs">najmniej</tspan></text>
<text y="1783.30" font-family="'DejaVu Sans', 'Liberation Sans', sans-serif" font-size="18.33" fill="#005e9c"><tspan x="785.00" textLength="70.58" lengthAdjust="spacingAndGlyphs">opadów</tspan> <tspan x="860.45" textLength="56.33" lengthAdjust="spacingAndGlyphs">notuje</tspan> <tspan x="921.66" textLength="24.25" lengthAdjust="spacingAndGlyphs">się</tspan> <tspan x="950.77" textLength="14.56" lengthAdjust="spacingAndGlyphs">w</tspan> <tspan x="970.20" textLength="71.19" lengthAdjust="spacingAndGlyphs">sierpniu</tspan> <tspan x="1046.27" textLength="6.05" lengthAdjust="spacingAndGlyphs">-</tspan> <tspan x="1057.19" textLength="66.23" lengthAdjust="spacingAndGlyphs">średnio</tspan></text>
<text y="1807.00" font-family="'DejaVu Sans', 'Liberation Sans', sans-serif" font-size="18.33" fill="#005e9c"><tspan x="785.00" textLength="26.42" lengthAdjust="spacingAndGlyphs">1.6</tspan> <tspan x="816.30" textLength="39.64" lengthAdjust="spacingAndGlyphs">mm,</tspan> <tspan x="860.81" textLength="10.44" lengthAdjust="spacingAndGlyphs">a</tspan> <tspan x="876.12" textLength="59.22" lengthAdjust="spacingAndGlyphs">szanse</tspan> <tspan x="940.20" textLength="21.97" lengthAdjust="spacingAndGlyphs">na</tspan> <tspan x="967.05" textLength="103.64" lengthAdjust="spacingAndGlyphs">wystąpienie</tspan></text>
<text y="1830.70" font-family="'DejaVu Sans', 'Liberation Sans', sans-serif" font-size="18.33" fill="#005e9c"><tspan x="785.00" textLength="70.58" lengthAdjust="spacingAndGlyphs">opadów</tspan> <tspan x="860.45" textLength="74.98" lengthAdjust="spacingAndGlyphs">wynoszą</tspan> <tspan x="940.30" textLength="31.20" lengthAdjust="spacingAndGlyphs">0%.</tspan></text>
<text y="1908.40" font-family="'DejaVu Sans', 'Liberation Sans', sans-serif" font-size="18.43" fill="#005e9c" font-weight="700"><tspan x="785.00" textLength="76.42" lengthAdjust="spacingAndGlyphs">ROCZNE</tspan> <tspan x="866.33" textLength="65.70" lengthAdjust="spacingAndGlyphs">OPADY</tspan> <tspan x="936.94" textLength="81.47" lengthAdjust="spacingAndGlyphs">WEDŁUG</tspan> <tspan x="1023.31" textLength="48.88" lengthAdjust="spacingAndGlyphs">TYPU</tspan></text>
<text y="1941.40" font-family="'DejaVu Sans', 'Liberation Sans', sans-serif" font-size="18.33" fill="#005e9c"><tspan x="785.00" textLength="7.06" lengthAdjust="spacingAndGlyphs">•</tspan> <tspan x="796.95" textLength="64.67" lengthAdjust="spacingAndGlyphs">Deszcz:</tspan> <tspan x="866.48" textLength="37.02" lengthAdjust="spacingAndGlyphs">99%</tspan></text>
<text y="1970.00" font-family="'DejaVu Sans', 'Liberation Sans', sans-serif" font-size="18.33" fill="#005e9c"><tspan x="785.00" textLength="7.06" lengthAdjust="spacingAndGlyphs">•</tspan> <tspan x="796.95" textLength="52.25" lengthAdjust="spacingAndGlyphs">Śnieg:</tspan> <tspan x="854.06" textLength="26.27" lengthAdjust="spacingAndGlyphs">1%</tspan></text>
<text y="1892.70" font-family="'DejaVu Sans', 'Liberation Sans', sans-serif" font-size="15.60" fill="#fff" font-weight="700"><tspan x="318.80" textLength="61.98" lengthAdjust="spacingAndGlyphs">SZANSA</tspan> <tspan x="384.94" textLength="73.88" lengthAdjust="spacingAndGlyphs">OPADÓW</tspan></text>
<text x="48.51" y="1972.30" font-family="'DejaVu Sans', 'Liberation Sans', sans-serif" font-size="17.16" fill="#fff" font-weight="700" textLength="35.98" lengthAdjust="spacingAndGlyphs">34%</text>
<text x="106.97" y="1972.30" font-family="'DejaVu Sans', 'Liberation Sans', sans-serif" font-size="17.16" fill="#fff" font-weight="700" textLength="35.98" lengthAdjust="spacingAndGlyphs">32%</text>
<text x="165.43" y="1972.30" font-family="'DejaVu Sans', 'Liberation Sans', sans-serif" font-size="17.16" fill="#fff" font-weight="700" textLength="35.98" lengthAdjust="spacingAndGlyphs">25%</text>
<text x="223.89" y="1972.30" font-family="'DejaVu Sans', 'Liberation Sans', sans-serif" font-size="17.16" fill="#fff" font-weight="700" textLength="35.98" lengthAdjust="spacingAndGlyphs">15%</text>
<text x="282.35" y="1972.30" font-family="'DejaVu Sans', 'Liberation Sans', sans-serif" font-size="17.16" fill="#fff" font-weight="700" textLength="35.98" lengthAdjust="spacingAndGlyphs">15%</text>
<text x="345.84" y="1972.30" font-family="'DejaVu Sans', 'Liberation Sans', sans-serif" font-size="17.16" fill="#fff" font-weight="700" textLength="25.92" lengthAdjust="spacingAndGlyphs">8%</text>
<text x="404.30" y="1972.30" font-family="'DejaVu Sans', 'Liberation Sans', sans-serif" font-size="17.16" fill="#005e9c" font-weight="700" textLength="25.92" lengthAdjust="spacingAndGlyphs">1%</text>
<text x="462.76" y="1972.30" font-family="'DejaVu Sans', 'Liberation Sans', sans-serif" font-size="17.16" fill="#005e9c" font-weight="700" textLength="25.92" lengthAdjust="spacingAndGlyphs">0%</text>
<text x="521.22" y="1972.30" font-family="'DejaVu Sans', 'Liberation Sans', sans-serif" font-size="17.16" fill="#fff" font-weight="700" textLength="25.92" lengthAdjust="spacingAndGlyphs">8%</text>
<text x="574.65" y="1972.30" font-family="'DejaVu Sans', 'Liberation Sans', sans-serif" font-size="17.16" fill="#fff" font-weight="700" textLength="35.98" lengthAdjust="spacingAndGlyphs">17%</text>
<text x="633.11" y="1972.30" font-family="'DejaVu Sans', 'Liberation Sans', sans-serif" font-size="17.16" fill="#fff" font-weight="700" textLength="35.98" lengthAdjust="spacingAndGlyphs">19%</text>
<text x="691.57" y="1972.30" font-family="'DejaVu Sans', 'Liberation Sans', sans-serif" font-size="17.16" fill="#fff" font-weight="700" textLength="35.98" lengthAdjust="spacingAndGlyphs">26%</text>
<text x="55.15" y="2008.60" font-family="'DejaVu Sans', 'Liberation Sans', sans-serif" font-size="11.51" fill="#005e9c" font-weight="700" textLength="20.70" lengthAdjust="spacingAndGlyphs">STY</text>
<text x="112.75" y="2008.60" font-family="'DejaVu Sans', 'Liberation Sans', sans-serif" font-size="11.51" fill="#005e9c" font-weight="700" textLength="22.42" lengthAdjust="spacingAndGlyphs">LUT</text>
<text x="168.89" y="2008.60" font-family="'DejaVu Sans', 'Liberation Sans', sans-serif" font-size="11.51" fill="#005e9c" font-weight="700" textLength="27.06" lengthAdjust="spacingAndGlyphs">MAR</text>
<text x="229.30" y="2008.60" font-family="'DejaVu Sans', 'Liberation Sans', sans-serif" font-size="11.51" fill="#005e9c" font-weight="700" textLength="23.16" lengthAdjust="spacingAndGlyphs">KWI</text>
<text x="287.75" y="2008.60" font-family="'DejaVu Sans', 'Liberation Sans', sans-serif" font-size="11.51" fill="#005e9c" font-weight="700" textLength="23.17" lengthAdjust="spacingAndGlyphs">MAJ</text>
<text x="347.32" y="2008.60" font-family="'DejaVu Sans', 'Liberation Sans', sans-serif" font-size="11.51" fill="#005e9c" font-weight="700" textLength="20.97" lengthAdjust="spacingAndGlyphs">CZE</text>
<text x="407.27" y="2008.60" font-family="'DejaVu Sans', 'Liberation Sans', sans-serif" font-size="11.51" fill="#005e9c" font-weight="700" textLength="17.98" lengthAdjust="spacingAndGlyphs">LIP</text>
<text x="466.21" y="2008.60" font-family="'DejaVu Sans', 'Liberation Sans', sans-serif" font-size="11.51" fill="#005e9c" font-weight="700" textLength="17.02" lengthAdjust="spacingAndGlyphs">SIE</text>
<text x="520.16" y="2008.60" font-family="'DejaVu Sans', 'Liberation Sans', sans-serif" font-size="11.51" fill="#005e9c" font-weight="700" textLength="26.03" lengthAdjust="spacingAndGlyphs">WRZ</text>
<text x="580.44" y="2008.60" font-family="'DejaVu Sans', 'Liberation Sans', sans-serif" font-size="11.51" fill="#005e9c" font-weight="700" textLength="22.39" lengthAdjust="spacingAndGlyphs">PAŹ</text>
<text x="641.56" y="2008.60" font-family="'DejaVu Sans', 'Liberation Sans', sans-serif" font-size="11.51" fill="#005e9c" font-weight="700" textLength="17.08" lengthAdjust="spacingAndGlyphs">LIS</text>
<text x="695.94" y="2008.60" font-family="'DejaVu Sans', 'Liberation Sans', sans-serif" font-size="11.51" fill="#005e9c" font-weight="700" textLength="25.25" lengthAdjust="spacingAndGlyphs">GRU</text>
<text x="46.90" y="2116.90" font-family="'DejaVu Sans', 'Liberation Sans', sans-serif" font-size="15.40" fill="#b0dcff" font-weight="700" textLength="22.59" lengthAdjust="spacingAndGlyphs">CC</text>
<text x="185.20" y="2117.00" font-family="'DejaVu Sans', 'Liberation Sans', sans-serif" font-size="15.50" fill="#b0dcff" font-weight="700" textLength="113.19" lengthAdjust="spacingAndGlyphs">CC BY-ND 4.0</text>
<text x="982.80" y="2120.00" font-family="'DejaVu Sans', 'Liberation Sans', sans-serif" font-size="21.45" fill="#fff" font-weight="700" textLength="175.80" lengthAdjust="spacingAndGlyphs">METEOATLAS.PL</text>
</svg>
</body></html>
